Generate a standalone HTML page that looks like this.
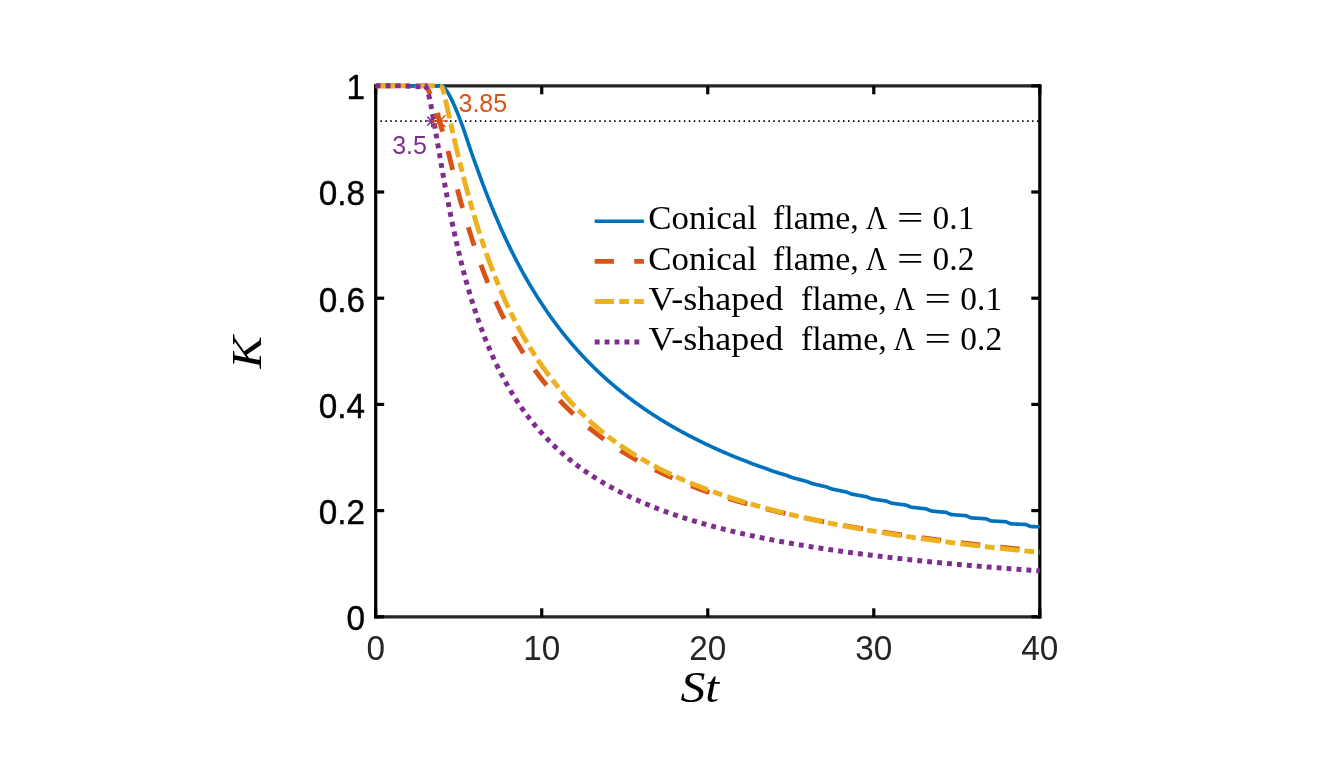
<!DOCTYPE html>
<html lang="en"><head><meta charset="utf-8"><title>K vs St</title>
<style>html,body{margin:0;padding:0;background:#fff;}svg{display:block;}</style></head>
<body>
<svg width="1331" height="757" viewBox="0 0 1331 757">
<rect width="1331" height="757" fill="#fff"/>
<g stroke="#262626" stroke-width="3.2" fill="none">
<line x1="374.09999999999997" y1="85.8" x2="1041.3999999999999" y2="85.8"/>
<line x1="374.09999999999997" y1="616.8" x2="1041.3999999999999" y2="616.8"/>
</g>
<g stroke="#000" stroke-width="3.2" fill="none">
<line x1="375.7" y1="84.2" x2="375.7" y2="618.4"/>
<line x1="1039.8" y1="84.2" x2="1039.8" y2="618.4"/>
<line x1="375.70" y1="616.8" x2="375.70" y2="608.3"/>
<line x1="375.70" y1="85.8" x2="375.70" y2="94.3"/>
<line x1="541.72" y1="616.8" x2="541.72" y2="608.3"/>
<line x1="541.72" y1="85.8" x2="541.72" y2="94.3"/>
<line x1="707.75" y1="616.8" x2="707.75" y2="608.3"/>
<line x1="707.75" y1="85.8" x2="707.75" y2="94.3"/>
<line x1="873.77" y1="616.8" x2="873.77" y2="608.3"/>
<line x1="873.77" y1="85.8" x2="873.77" y2="94.3"/>
<line x1="1039.80" y1="616.8" x2="1039.80" y2="608.3"/>
<line x1="1039.80" y1="85.8" x2="1039.80" y2="94.3"/>
<line x1="375.7" y1="616.80" x2="384.2" y2="616.80"/>
<line x1="1039.8" y1="616.80" x2="1031.3" y2="616.80"/>
<line x1="375.7" y1="510.60" x2="384.2" y2="510.60"/>
<line x1="1039.8" y1="510.60" x2="1031.3" y2="510.60"/>
<line x1="375.7" y1="404.40" x2="384.2" y2="404.40"/>
<line x1="1039.8" y1="404.40" x2="1031.3" y2="404.40"/>
<line x1="375.7" y1="298.20" x2="384.2" y2="298.20"/>
<line x1="1039.8" y1="298.20" x2="1031.3" y2="298.20"/>
<line x1="375.7" y1="192.00" x2="384.2" y2="192.00"/>
<line x1="1039.8" y1="192.00" x2="1031.3" y2="192.00"/>
<line x1="375.7" y1="85.80" x2="384.2" y2="85.80"/>
<line x1="1039.8" y1="85.80" x2="1031.3" y2="85.80"/>
</g>
<line x1="380.35" y1="121.05" x2="1039" y2="121.05" stroke="#000" stroke-width="1.8" stroke-dasharray="1.5 3.475"/>
<g fill="none" stroke-linejoin="round">
<path d="M375.70,85.80 L408.07,85.80 L440.45,85.80 L440.95,85.80 L441.45,85.80 L441.95,85.80 L442.45,86.01 L442.95,86.36 L443.45,86.79 L443.95,87.28 L444.45,87.83 L444.95,88.43 L445.45,89.08 L445.95,89.76 L446.45,90.48 L446.95,91.24 L447.45,92.02 L447.95,92.84 L448.45,93.69 L448.95,94.56 L449.45,95.46 L449.95,96.39 L450.45,97.34 L450.95,98.31 L451.45,99.31 L451.95,100.33 L452.45,101.38 L452.95,102.44 L453.45,103.52 L453.95,104.63 L454.45,105.75 L454.95,106.89 L455.45,108.05 L455.95,109.23 L456.45,110.43 L456.95,111.64 L457.45,112.87 L457.95,114.12 L458.45,115.38 L458.95,116.66 L459.45,117.96 L459.94,119.27 L460.44,120.60 L460.94,121.94 L461.44,123.30 L461.94,124.67 L462.44,126.06 L462.94,127.45 L463.44,128.86 L463.94,130.28 L464.44,131.71 L464.94,133.16 L465.44,134.62 L465.94,136.10 L466.44,137.58 L466.94,139.08 L467.44,140.58 L467.94,142.08 L468.44,143.59 L468.94,145.09 L469.44,146.59 L469.94,148.09 L470.44,149.58 L470.94,151.06 L471.44,152.52 L471.94,153.98 L472.44,155.42 L472.94,156.84 L473.44,158.25 L473.94,159.65 L474.44,161.03 L474.94,162.41 L475.44,163.79 L475.94,165.16 L476.44,166.54 L476.94,167.93 L477.44,169.33 L477.94,170.72 L478.44,172.10 L478.94,173.48 L479.44,174.86 L479.94,176.23 L480.44,177.59 L480.94,178.95 L481.44,180.30 L481.94,181.64 L482.44,182.98 L482.94,184.32 L483.44,185.64 L483.94,186.96 L484.44,188.28 L484.94,189.59 L485.44,190.89 L485.94,192.19 L486.44,193.48 L486.94,194.76 L487.44,196.04 L487.94,197.32 L488.44,198.58 L488.94,199.84 L489.44,201.10 L489.94,202.35 L490.44,203.59 L490.94,204.83 L491.44,206.06 L491.94,207.28 L492.44,208.50 L492.94,209.72 L493.44,210.92 L493.94,212.13 L494.44,213.32 L494.94,214.51 L495.44,215.70 L495.94,216.88 L496.44,218.05 L496.94,219.22 L497.44,220.38 L497.94,221.53 L498.44,222.69 L498.94,223.83 L499.44,224.97 L499.93,226.10 L500.43,227.23 L500.93,228.35 L501.43,229.47 L501.93,230.58 L502.43,231.69 L502.93,232.79 L503.43,233.88 L503.93,234.97 L504.43,236.06 L504.93,237.14 L505.43,238.21 L505.93,239.28 L506.43,240.34 L506.93,241.40 L507.43,242.45 L507.93,243.50 L508.43,244.55 L508.93,245.58 L509.43,246.62 L509.93,247.64 L510.43,248.67 L510.93,249.68 L511.43,250.70 L511.93,251.70 L512.43,252.71 L512.93,253.70 L513.43,254.70 L513.93,255.68 L514.43,256.67 L514.93,257.65 L515.43,258.62 L515.93,259.59 L516.43,260.55 L516.93,261.51 L517.43,262.47 L517.93,263.42 L518.43,264.36 L518.93,265.30 L519.43,266.24 L519.93,267.17 L520.43,268.10 L520.93,269.02 L521.43,269.94 L521.93,270.86 L522.43,271.77 L522.93,272.67 L523.43,273.57 L523.93,274.47 L524.43,275.36 L524.93,276.25 L525.43,277.13 L525.93,278.01 L526.43,278.89 L526.93,279.76 L527.43,280.63 L527.93,281.49 L528.43,282.35 L528.93,283.21 L529.43,284.06 L529.93,284.90 L530.43,285.75 L530.93,286.59 L531.43,287.42 L531.93,288.25 L532.43,289.08 L532.93,289.90 L533.43,290.72 L533.93,291.54 L534.43,292.35 L534.93,293.16 L535.43,293.96 L535.93,294.77 L536.43,295.56 L536.93,296.36 L537.43,297.15 L537.93,297.93 L538.43,298.71 L538.93,299.49 L539.43,300.27 L539.92,301.04 L540.42,301.81 L540.92,302.57 L541.42,303.34 L541.92,304.09 L542.42,304.85 L542.92,305.60 L543.42,306.35 L543.92,307.09 L544.42,307.83 L544.92,308.57 L545.42,309.30 L545.92,310.03 L546.42,310.76 L546.92,311.49 L547.42,312.21 L547.92,312.93 L548.42,313.64 L548.92,314.35 L549.42,315.06 L549.92,315.77 L550.42,316.47 L550.92,317.17 L551.42,317.86 L551.92,318.56 L552.42,319.25 L552.92,319.93 L553.42,320.62 L553.92,321.30 L554.42,321.98 L554.92,322.65 L555.42,323.32 L555.92,323.99 L556.42,324.66 L556.92,325.32 L557.42,325.98 L557.92,326.64 L558.42,327.29 L558.92,327.95 L559.42,328.59 L559.92,329.24 L560.42,329.88 L560.92,330.53 L561.42,331.16 L561.92,331.80 L562.42,332.43 L562.92,333.06 L563.42,333.69 L563.92,334.31 L564.42,334.94 L564.92,335.56 L565.42,336.17 L565.92,336.79 L566.42,337.40 L566.92,338.01 L567.42,338.61 L567.92,339.22 L568.42,339.82 L568.92,340.42 L569.42,341.01 L569.92,341.61 L570.42,342.20 L570.92,342.79 L571.42,343.38 L571.92,343.96 L572.42,344.54 L572.92,345.12 L573.42,345.70 L573.92,346.27 L574.42,346.85 L574.92,347.42 L575.42,347.98 L575.92,348.55 L576.42,349.11 L576.92,349.67 L577.42,350.23 L577.92,350.79 L578.42,351.34 L578.92,351.89 L579.42,352.44 L579.91,352.99 L580.41,353.54 L580.91,354.08 L581.41,354.62 L581.91,355.16 L582.41,355.70 L582.91,356.23 L583.41,356.76 L583.91,357.29 L584.41,357.82 L584.91,358.35 L585.41,358.87 L585.91,359.39 L586.41,359.91 L586.91,360.43 L587.41,360.95 L587.91,361.46 L588.41,361.97 L588.91,362.48 L589.41,362.99 L589.91,363.50 L590.41,364.00 L590.91,364.50 L591.41,365.00 L591.91,365.50 L592.41,366.00 L592.91,366.49 L593.41,366.99 L593.91,367.48 L594.41,367.97 L594.91,368.45 L595.41,368.94 L595.91,369.42 L596.41,369.90 L596.91,370.38 L597.41,370.86 L597.91,371.34 L598.41,371.81 L598.91,372.28 L599.41,372.75 L599.91,373.22 L600.41,373.69 L600.91,374.15 L601.41,374.62 L601.91,375.08 L602.41,375.54 L602.91,376.00 L603.41,376.46 L603.91,376.91 L604.41,377.36 L604.91,377.82 L605.41,378.27 L605.91,378.71 L606.41,379.16 L606.91,379.61 L607.41,380.05 L607.91,380.49 L608.41,380.93 L608.91,381.37 L609.41,381.81 L609.91,382.24 L610.41,382.68 L610.91,383.11 L611.41,383.54 L611.91,383.97 L612.41,384.40 L612.91,384.82 L613.41,385.25 L613.91,385.67 L614.41,386.09 L614.91,386.51 L615.41,386.93 L615.91,387.35 L616.41,387.77 L616.91,388.18 L617.41,388.59 L617.91,389.00 L618.41,389.41 L618.91,389.82 L619.41,390.23 L619.90,390.63 L620.40,391.04 L620.90,391.44 L621.40,391.84 L621.90,392.24 L622.40,392.64 L622.90,393.04 L623.40,393.43 L623.90,393.83 L624.40,394.22 L624.90,394.61 L625.40,395.00 L625.90,395.39 L626.40,395.78 L626.90,396.17 L627.40,396.55 L627.90,396.94 L628.40,397.32 L628.90,397.70 L629.40,398.08 L629.90,398.46 L630.40,398.83 L630.90,399.21 L631.40,399.58 L631.90,399.96 L632.40,400.33 L632.90,400.70 L633.40,401.07 L633.90,401.44 L634.40,401.81 L634.90,402.17 L635.40,402.54 L635.90,402.90 L636.40,403.26 L636.90,403.62 L637.40,403.98 L637.90,404.34 L638.40,404.70 L638.90,405.06 L639.40,405.41 L639.90,405.77 L640.40,406.12 L640.90,406.47 L641.40,406.82 L641.90,407.17 L642.40,407.52 L642.90,407.87 L643.40,408.21 L643.90,408.56 L644.40,408.90 L644.90,409.24 L645.40,409.58 L645.90,409.92 L646.40,410.26 L646.90,410.60 L647.40,410.94 L647.90,411.28 L648.40,411.61 L648.90,411.94 L649.40,412.28 L649.90,412.61 L650.40,412.94 L650.90,413.27 L651.40,413.60 L651.90,413.92 L652.40,414.25 L652.90,414.58 L653.40,414.90 L653.90,415.22 L654.40,415.55 L654.90,415.87 L655.40,416.19 L655.90,416.51 L656.40,416.83 L656.90,417.14 L657.40,417.46 L657.90,417.78 L658.40,418.09 L658.90,418.40 L659.40,418.72 L659.89,419.03 L660.39,419.34 L660.89,419.65 L661.39,419.96 L661.89,420.26 L662.39,420.57 L662.89,420.88 L663.39,421.18 L663.89,421.49 L664.39,421.79 L664.89,422.09 L665.39,422.39 L665.89,422.69 L666.39,422.99 L666.89,423.29 L667.39,423.59 L667.89,423.88 L668.39,424.18 L668.89,424.47 L669.39,424.77 L669.89,425.06 L670.39,425.35 L670.89,425.64 L671.39,425.93 L671.89,426.22 L672.39,426.51 L672.89,426.80 L673.39,427.09 L673.89,427.37 L674.39,427.66 L674.89,427.94 L675.39,428.23 L675.89,428.51 L676.39,428.79 L676.89,429.07 L677.39,429.35 L677.89,429.63 L678.39,429.91 L678.89,430.19 L679.39,430.46 L679.89,430.74 L680.39,431.02 L680.89,431.29 L681.39,431.56 L681.89,431.84 L682.39,432.11 L682.89,432.38 L683.39,432.65 L683.89,432.92 L684.39,433.19 L684.89,433.46 L685.39,433.73 L685.89,433.99 L686.39,434.26 L686.89,434.52 L687.39,434.79 L687.89,435.05 L688.39,435.31 L688.89,435.58 L689.39,435.84 L689.89,436.10 L690.39,436.36 L690.89,436.62 L691.39,436.88 L691.89,437.13 L692.39,437.39 L692.89,437.65 L693.39,437.90 L693.89,438.16 L694.39,438.41 L694.89,438.66 L695.39,438.92 L695.89,439.17 L696.39,439.42 L696.89,439.67 L697.39,439.92 L697.89,440.17 L698.39,440.42 L698.89,440.66 L699.39,440.91 L699.88,441.16 L700.38,441.40 L700.88,441.65 L701.38,441.89 L701.88,442.14 L702.38,442.38 L702.88,442.62 L703.38,442.86 L703.88,443.10 L704.38,443.34 L704.88,443.58 L705.38,443.82 L705.88,444.06 L706.38,444.30 L706.88,444.54 L707.38,444.77 L707.88,445.01 L708.38,445.24 L708.88,445.48 L709.38,445.71 L709.88,445.95 L710.38,446.18 L710.88,446.41 L711.38,446.65 L711.88,446.88 L712.38,447.11 L712.88,447.34 L713.38,447.57 L713.88,447.80 L714.38,448.03 L714.88,448.25 L715.38,448.48 L715.88,448.71 L716.38,448.93 L716.88,449.15 L717.38,449.38 L717.88,449.60 L718.38,449.82 L718.88,450.04 L719.38,450.26 L719.88,450.48 L720.38,450.70 L720.88,450.91 L721.38,451.13 L721.88,451.35 L722.38,451.56 L722.88,451.78 L723.38,451.99 L723.88,452.20 L724.38,452.41 L724.88,452.62 L725.38,452.84 L725.88,453.05 L726.38,453.25 L726.88,453.46 L727.38,453.69 L727.88,453.91 L728.38,454.13 L728.88,454.35 L729.38,454.57 L729.88,454.80 L730.38,455.02 L730.88,455.24 L731.38,455.46 L731.88,455.68 L732.38,455.89 L732.88,456.09 L733.38,456.29 L733.88,456.50 L734.38,456.70 L734.88,456.90 L735.38,457.10 L735.88,457.30 L736.38,457.49 L736.88,457.69 L737.38,457.89 L737.88,458.09 L738.38,458.28 L738.88,458.48 L739.38,458.67 L739.87,458.86 L740.37,459.06 L740.87,459.25 L741.37,459.44 L741.87,459.63 L742.37,459.82 L742.87,460.01 L743.37,460.20 L743.87,460.39 L744.37,460.58 L744.87,460.76 L745.37,460.95 L745.87,461.13 L746.37,461.32 L746.87,461.51 L747.37,461.72 L747.87,461.93 L748.37,462.15 L748.87,462.36 L749.37,462.57 L749.87,462.79 L750.37,463.00 L750.87,463.21 L751.37,463.43 L751.87,463.63 L752.37,463.81 L752.87,463.99 L753.37,464.17 L753.87,464.35 L754.37,464.53 L754.87,464.71 L755.37,464.89 L755.87,465.06 L756.37,465.24 L756.87,465.41 L757.37,465.59 L757.87,465.76 L758.37,465.93 L758.87,466.11 L759.37,466.28 L759.87,466.45 L760.37,466.62 L760.87,466.79 L761.37,466.96 L761.87,467.13 L762.37,467.30 L762.87,467.46 L763.37,467.63 L763.87,467.80 L764.37,467.96 L764.87,468.13 L765.37,468.29 L765.87,468.46 L766.37,468.62 L766.87,468.80 L767.37,469.00 L767.87,469.21 L768.37,469.42 L768.87,469.62 L769.37,469.83 L769.87,470.04 L770.37,470.25 L770.87,470.45 L771.37,470.66 L771.87,470.85 L772.37,471.01 L772.87,471.17 L773.37,471.33 L773.87,471.49 L774.37,471.64 L774.87,471.80 L775.37,471.96 L775.87,472.11 L776.37,472.27 L776.87,472.42 L777.37,472.58 L777.87,472.73 L778.37,472.88 L778.87,473.04 L779.37,473.19 L779.86,473.34 L780.36,473.49 L780.86,473.64 L781.36,473.79 L781.86,473.94 L782.36,474.09 L782.86,474.24 L783.36,474.38 L783.86,474.53 L784.36,474.68 L784.86,474.82 L785.36,474.97 L785.86,475.11 L786.36,475.26 L786.86,475.43 L787.36,475.63 L787.86,475.84 L788.36,476.04 L788.86,476.24 L789.36,476.44 L789.86,476.65 L790.36,476.85 L790.86,477.05 L791.36,477.26 L791.86,477.43 L792.36,477.57 L792.86,477.71 L793.36,477.85 L793.86,477.99 L794.36,478.13 L794.86,478.27 L795.36,478.41 L795.86,478.55 L796.36,478.68 L796.86,478.82 L797.36,478.96 L797.86,479.09 L798.36,479.23 L798.86,479.36 L799.36,479.50 L799.86,479.63 L800.36,479.76 L800.86,479.89 L801.36,480.03 L801.86,480.16 L802.36,480.29 L802.86,480.42 L803.36,480.55 L803.86,480.68 L804.36,480.81 L804.86,480.94 L805.36,481.06 L805.86,481.19 L806.36,481.32 L806.86,481.49 L807.36,481.69 L807.86,481.89 L808.36,482.09 L808.86,482.29 L809.36,482.50 L809.86,482.70 L810.36,482.90 L810.86,483.10 L811.36,483.30 L811.86,483.45 L812.36,483.58 L812.86,483.70 L813.36,483.82 L813.86,483.95 L814.36,484.07 L814.86,484.19 L815.36,484.31 L815.86,484.44 L816.36,484.56 L816.86,484.68 L817.36,484.80 L817.86,484.92 L818.36,485.04 L818.86,485.15 L819.36,485.27 L819.85,485.39 L820.35,485.51 L820.85,485.62 L821.35,485.74 L821.85,485.85 L822.35,485.97 L822.85,486.08 L823.35,486.20 L823.85,486.31 L824.35,486.43 L824.85,486.54 L825.35,486.65 L825.85,486.76 L826.35,486.87 L826.85,487.05 L827.35,487.25 L827.85,487.45 L828.35,487.65 L828.85,487.85 L829.35,488.05 L829.85,488.26 L830.35,488.46 L830.85,488.66 L831.35,488.86 L831.85,488.99 L832.35,489.10 L832.85,489.20 L833.35,489.31 L833.85,489.42 L834.35,489.53 L834.85,489.64 L835.35,489.74 L835.85,489.85 L836.35,489.96 L836.85,490.06 L837.35,490.17 L837.85,490.27 L838.35,490.38 L838.85,490.48 L839.35,490.58 L839.85,490.69 L840.35,490.79 L840.85,490.89 L841.35,490.99 L841.85,491.09 L842.35,491.19 L842.85,491.29 L843.35,491.39 L843.85,491.49 L844.35,491.59 L844.85,491.69 L845.35,491.79 L845.85,491.89 L846.35,491.98 L846.85,492.18 L847.35,492.38 L847.85,492.58 L848.35,492.78 L848.85,492.98 L849.35,493.18 L849.85,493.38 L850.35,493.58 L850.85,493.79 L851.35,493.99 L851.85,494.09 L852.35,494.18 L852.85,494.28 L853.35,494.37 L853.85,494.47 L854.35,494.56 L854.85,494.66 L855.35,494.75 L855.85,494.84 L856.35,494.93 L856.85,495.03 L857.35,495.12 L857.85,495.21 L858.35,495.30 L858.85,495.39 L859.35,495.48 L859.84,495.57 L860.34,495.66 L860.84,495.75 L861.34,495.84 L861.84,495.92 L862.34,496.01 L862.84,496.10 L863.34,496.18 L863.84,496.27 L864.34,496.36 L864.84,496.44 L865.34,496.53 L865.84,496.61 L866.34,496.70 L866.84,496.91 L867.34,497.11 L867.84,497.31 L868.34,497.51 L868.84,497.72 L869.34,497.92 L869.84,498.12 L870.34,498.33 L870.84,498.53 L871.34,498.72 L871.84,498.81 L872.34,498.89 L872.84,498.97 L873.34,499.06 L873.84,499.14 L874.34,499.22 L874.84,499.30 L875.34,499.38 L875.84,499.46 L876.34,499.54 L876.84,499.62 L877.34,499.70 L877.84,499.78 L878.34,499.86 L878.84,499.93 L879.34,500.01 L879.84,500.09 L880.34,500.17 L880.84,500.24 L881.34,500.32 L881.84,500.39 L882.34,500.47 L882.84,500.54 L883.34,500.62 L883.84,500.69 L884.34,500.77 L884.84,500.84 L885.34,500.91 L885.84,500.98 L886.34,501.09 L886.84,501.29 L887.34,501.50 L887.84,501.70 L888.34,501.91 L888.84,502.11 L889.34,502.32 L889.84,502.53 L890.34,502.73 L890.84,502.94 L891.34,503.11 L891.84,503.19 L892.34,503.26 L892.84,503.33 L893.34,503.40 L893.84,503.47 L894.34,503.54 L894.84,503.61 L895.34,503.68 L895.84,503.74 L896.34,503.81 L896.84,503.88 L897.34,503.95 L897.84,504.02 L898.34,504.08 L898.84,504.15 L899.34,504.22 L899.83,504.28 L900.33,504.35 L900.83,504.41 L901.33,504.48 L901.83,504.54 L902.33,504.60 L902.83,504.67 L903.33,504.73 L903.83,504.79 L904.33,504.86 L904.83,504.92 L905.33,504.98 L905.83,505.04 L906.33,505.16 L906.83,505.36 L907.33,505.57 L907.83,505.78 L908.33,505.99 L908.83,506.20 L909.33,506.41 L909.83,506.62 L910.33,506.83 L910.83,507.05 L911.33,507.20 L911.83,507.26 L912.33,507.32 L912.83,507.38 L913.33,507.44 L913.83,507.50 L914.33,507.56 L914.83,507.61 L915.33,507.67 L915.83,507.73 L916.33,507.79 L916.83,507.84 L917.33,507.90 L917.83,507.96 L918.33,508.01 L918.83,508.07 L919.33,508.13 L919.83,508.18 L920.33,508.23 L920.83,508.29 L921.33,508.34 L921.83,508.40 L922.33,508.45 L922.83,508.50 L923.33,508.56 L923.83,508.61 L924.33,508.66 L924.83,508.71 L925.33,508.76 L925.83,508.81 L926.33,508.95 L926.83,509.16 L927.33,509.37 L927.83,509.59 L928.33,509.80 L928.83,510.02 L929.33,510.23 L929.83,510.45 L930.33,510.66 L930.83,510.88 L931.33,511.00 L931.83,511.05 L932.33,511.10 L932.83,511.15 L933.33,511.20 L933.83,511.25 L934.33,511.30 L934.83,511.35 L935.33,511.40 L935.83,511.45 L936.33,511.49 L936.83,511.54 L937.33,511.59 L937.83,511.63 L938.33,511.68 L938.83,511.73 L939.33,511.77 L939.82,511.82 L940.32,511.86 L940.82,511.91 L941.32,511.95 L941.82,511.99 L942.32,512.04 L942.82,512.08 L943.32,512.12 L943.82,512.16 L944.32,512.21 L944.82,512.25 L945.32,512.29 L945.82,512.33 L946.32,512.49 L946.82,512.71 L947.32,512.92 L947.82,513.14 L948.32,513.36 L948.82,513.58 L949.32,513.80 L949.82,514.02 L950.32,514.24 L950.82,514.47 L951.32,514.56 L951.82,514.60 L952.32,514.64 L952.82,514.68 L953.32,514.72 L953.82,514.76 L954.32,514.80 L954.82,514.84 L955.32,514.88 L955.82,514.92 L956.32,514.96 L956.82,514.99 L957.32,515.03 L957.82,515.07 L958.32,515.11 L958.82,515.14 L959.32,515.18 L959.82,515.22 L960.32,515.25 L960.82,515.29 L961.32,515.32 L961.82,515.36 L962.32,515.40 L962.82,515.43 L963.32,515.47 L963.82,515.50 L964.32,515.54 L964.82,515.57 L965.32,515.61 L965.82,515.64 L966.32,515.82 L966.82,516.04 L967.32,516.26 L967.82,516.48 L968.32,516.70 L968.82,516.92 L969.32,517.14 L969.82,517.36 L970.32,517.58 L970.82,517.79 L971.32,517.86 L971.82,517.89 L972.32,517.92 L972.82,517.96 L973.32,517.99 L973.82,518.02 L974.32,518.06 L974.82,518.09 L975.32,518.12 L975.82,518.15 L976.32,518.19 L976.82,518.22 L977.32,518.25 L977.82,518.28 L978.32,518.31 L978.82,518.34 L979.32,518.38 L979.81,518.41 L980.31,518.44 L980.81,518.47 L981.31,518.50 L981.81,518.53 L982.31,518.56 L982.81,518.59 L983.31,518.62 L983.81,518.65 L984.31,518.68 L984.81,518.71 L985.31,518.74 L985.81,518.77 L986.31,518.98 L986.81,519.19 L987.31,519.41 L987.81,519.62 L988.31,519.84 L988.81,520.05 L989.31,520.26 L989.81,520.48 L990.31,520.69 L990.81,520.90 L991.31,520.94 L991.81,520.96 L992.31,520.99 L992.81,521.02 L993.31,521.05 L993.81,521.08 L994.31,521.11 L994.81,521.13 L995.31,521.16 L995.81,521.19 L996.31,521.22 L996.81,521.24 L997.31,521.27 L997.81,521.30 L998.31,521.32 L998.81,521.35 L999.31,521.38 L999.81,521.41 L1000.31,521.43 L1000.81,521.46 L1001.31,521.48 L1001.81,521.51 L1002.31,521.54 L1002.81,521.56 L1003.31,521.59 L1003.81,521.61 L1004.31,521.64 L1004.81,521.67 L1005.31,521.69 L1005.81,521.73 L1006.31,521.94 L1006.81,522.15 L1007.31,522.36 L1007.81,522.57 L1008.31,522.78 L1008.81,522.99 L1009.31,523.20 L1009.81,523.41 L1010.31,523.62 L1010.81,523.81 L1011.31,523.83 L1011.81,523.85 L1012.31,523.88 L1012.81,523.90 L1013.31,523.93 L1013.81,523.95 L1014.31,523.97 L1014.81,524.00 L1015.31,524.02 L1015.81,524.04 L1016.31,524.07 L1016.81,524.09 L1017.31,524.11 L1017.81,524.13 L1018.31,524.16 L1018.81,524.18 L1019.31,524.20 L1019.80,524.22 L1020.30,524.25 L1020.80,524.27 L1021.30,524.29 L1021.80,524.31 L1022.30,524.34 L1022.80,524.36 L1023.30,524.38 L1023.80,524.40 L1024.30,524.42 L1024.80,524.44 L1025.30,524.47 L1025.80,524.53 L1026.30,524.73 L1026.80,524.94 L1027.30,525.15 L1027.80,525.35 L1028.30,525.56 L1028.80,525.76 L1029.30,525.97 L1029.80,526.17 L1030.30,526.38 L1030.80,526.53 L1031.30,526.55 L1031.80,526.57 L1032.30,526.59 L1032.80,526.61 L1033.30,526.63 L1033.80,526.65 L1034.30,526.67 L1034.80,526.69 L1035.30,526.71 L1035.80,526.73 L1036.30,526.75 L1036.80,526.77 L1037.30,526.79 L1037.80,526.81 L1038.30,526.83 L1038.80,526.84 L1039.30,526.86 L1039.80,526.88" stroke="#0072BD" stroke-width="3.65"/>
<path d="M375.70,85.80 L399.77,85.80 L423.85,85.80 L424.36,85.80 L424.87,85.80 L425.39,85.80 L425.90,86.14 L426.42,86.81 L426.93,87.61 L427.44,88.50 L427.96,89.46 L428.47,90.49 L428.98,91.57 L429.50,92.71 L430.01,93.88 L430.53,95.10 L431.04,96.36 L431.55,97.65 L432.07,98.98 L432.58,100.34 L433.09,101.72 L433.61,103.14 L434.12,104.58 L434.64,106.05 L435.15,107.54 L435.66,109.06 L436.18,110.60 L436.69,112.17 L437.20,113.75 L437.72,115.36 L438.23,116.99 L438.75,118.63 L439.26,120.30 L439.77,121.98 L440.29,123.69 L440.80,125.41 L441.31,127.15 L441.83,128.90 L442.34,130.67 L442.85,132.46 L443.37,134.27 L443.88,136.09 L444.40,137.92 L444.91,139.77 L445.42,141.64 L445.94,143.52 L446.45,145.41 L446.96,147.32 L447.48,149.24 L447.99,151.19 L448.51,153.16 L449.02,155.16 L449.53,157.19 L450.05,159.24 L450.56,161.30 L451.07,163.39 L451.59,165.49 L452.10,167.61 L452.62,169.73 L453.13,171.86 L453.64,173.99 L454.16,176.12 L454.67,178.24 L455.18,180.35 L455.70,182.45 L456.21,184.53 L456.73,186.59 L457.24,188.62 L457.75,190.63 L458.27,192.61 L458.78,194.56 L459.29,196.48 L459.81,198.37 L460.32,200.23 L460.84,202.07 L461.35,203.88 L461.86,205.66 L462.38,207.43 L462.89,209.19 L463.40,210.95 L463.92,212.71 L464.43,214.47 L464.95,216.21 L465.46,217.94 L465.97,219.66 L466.49,221.37 L467.00,223.06 L467.51,224.75 L468.03,226.42 L468.54,228.08 L469.05,229.73 L469.57,231.37 L470.08,233.00 L470.60,234.62 L471.11,236.22 L471.62,237.82 L472.14,239.40 L472.65,240.97 L473.16,242.53 L473.68,244.08 L474.19,245.62 L474.71,247.15 L475.22,248.67 L475.73,250.18 L476.25,251.67 L476.76,253.16 L477.27,254.64 L477.79,256.10 L478.30,257.55 L478.82,259.00 L479.33,260.43 L479.84,261.86 L480.36,263.27 L480.87,264.67 L481.38,266.07 L481.90,267.45 L482.41,268.83 L482.93,270.19 L483.44,271.55 L483.95,272.89 L484.47,274.23 L484.98,275.56 L485.49,276.87 L486.01,278.18 L486.52,279.48 L487.04,280.77 L487.55,282.05 L488.06,283.32 L488.58,284.59 L489.09,285.84 L489.60,287.09 L490.12,288.32 L490.63,289.55 L491.14,290.77 L491.66,291.98 L492.17,293.19 L492.69,294.38 L493.20,295.57 L493.71,296.75 L494.23,297.92 L494.74,299.08 L495.25,300.23 L495.77,301.38 L496.28,302.52 L496.80,303.65 L497.31,304.77 L497.82,305.89 L498.34,307.00 L498.85,308.10 L499.36,309.19 L499.88,310.28 L500.39,311.36 L500.91,312.43 L501.42,313.50 L501.93,314.55 L502.45,315.60 L502.96,316.65 L503.47,317.68 L503.99,318.72 L504.50,319.74 L505.02,320.76 L505.53,321.77 L506.04,322.77 L506.56,323.77 L507.07,324.76 L507.58,325.74 L508.10,326.72 L508.61,327.69 L509.13,328.66 L509.64,329.61 L510.15,330.57 L510.67,331.51 L511.18,332.46 L511.69,333.39 L512.21,334.32 L512.72,335.24 L513.23,336.16 L513.75,337.07 L514.26,337.98 L514.78,338.88 L515.29,339.77 L515.80,340.66 L516.32,341.55 L516.83,342.42 L517.34,343.30 L517.86,344.16 L518.37,345.03 L518.89,345.88 L519.40,346.73 L519.91,347.58 L520.43,348.42 L520.94,349.26 L521.45,350.09 L521.97,350.92 L522.48,351.74 L523.00,352.55 L523.51,353.36 L524.02,354.17 L524.54,354.97 L525.05,355.77 L525.56,356.56 L526.08,357.35 L526.59,358.13 L527.11,358.91 L527.62,359.68 L528.13,360.45 L528.65,361.22 L529.16,361.98 L529.67,362.73 L530.19,363.48 L530.70,364.23 L531.22,364.97 L531.73,365.71 L532.24,366.45 L532.76,367.18 L533.27,367.90 L533.78,368.63 L534.30,369.34 L534.81,370.06 L535.32,370.77 L535.84,371.47 L536.35,372.17 L536.87,372.87 L537.38,373.57 L537.89,374.26 L538.41,374.94 L538.92,375.62 L539.43,376.30 L539.95,376.98 L540.46,377.65 L540.98,378.32 L541.49,378.98 L542.00,379.64 L542.52,380.30 L543.03,380.95 L543.54,381.60 L544.06,382.25 L544.57,382.89 L545.09,383.53 L545.60,384.16 L546.11,384.79 L546.63,385.42 L547.14,386.05 L547.65,386.67 L548.17,387.29 L548.68,387.91 L549.20,388.52 L549.71,389.13 L550.22,389.73 L550.74,390.34 L551.25,390.94 L551.76,391.53 L552.28,392.13 L552.79,392.72 L553.31,393.30 L553.82,393.89 L554.33,394.47 L554.85,395.05 L555.36,395.62 L555.87,396.19 L556.39,396.76 L556.90,397.33 L557.41,397.89 L557.93,398.45 L558.44,399.01 L558.96,399.57 L559.47,400.12 L559.98,400.67 L560.50,401.22 L561.01,401.76 L561.52,402.30 L562.04,402.84 L562.55,403.38 L563.07,403.91 L563.58,404.44 L564.09,404.97 L564.61,405.49 L565.12,406.02 L565.63,406.54 L566.15,407.05 L566.66,407.57 L567.18,408.08 L567.69,408.59 L568.20,409.10 L568.72,409.61 L569.23,410.11 L569.74,410.61 L570.26,411.11 L570.77,411.60 L571.29,412.10 L571.80,412.59 L572.31,413.08 L572.83,413.56 L573.34,414.05 L573.85,414.53 L574.37,415.01 L574.88,415.49 L575.40,415.96 L575.91,416.43 L576.42,416.90 L576.94,417.37 L577.45,417.84 L577.96,418.30 L578.48,418.76 L578.99,419.22 L579.51,419.68 L580.02,420.14 L580.53,420.59 L581.05,421.04 L581.56,421.49 L582.07,421.94 L582.59,422.38 L583.10,422.83 L583.61,423.27 L584.13,423.71 L584.64,424.15 L585.16,424.58 L585.67,425.02 L586.18,425.45 L586.70,425.88 L587.21,426.30 L587.72,426.73 L588.24,427.15 L588.75,427.58 L589.27,428.00 L589.78,428.41 L590.29,428.83 L590.81,429.24 L591.32,429.66 L591.83,430.07 L592.35,430.48 L592.86,430.89 L593.38,431.29 L593.89,431.69 L594.40,432.10 L594.92,432.50 L595.43,432.90 L595.94,433.29 L596.46,433.69 L596.97,434.08 L597.49,434.47 L598.00,434.86 L598.51,435.25 L599.03,435.64 L599.54,436.02 L600.05,436.41 L600.57,436.79 L601.08,437.17 L601.60,437.55 L602.11,437.93 L602.62,438.30 L603.14,438.68 L603.65,439.05 L604.16,439.42 L604.68,439.79 L605.19,440.16 L605.70,440.52 L606.22,440.89 L606.73,441.25 L607.25,441.61 L607.76,441.98 L608.27,442.33 L608.79,442.69 L609.30,443.05 L609.81,443.40 L610.33,443.76 L610.84,444.11 L611.36,444.46 L611.87,444.81 L612.38,445.15 L612.90,445.50 L613.41,445.84 L613.92,446.19 L614.44,446.53 L614.95,446.87 L615.47,447.21 L615.98,447.55 L616.49,447.88 L617.01,448.22 L617.52,448.55 L618.03,448.89 L618.55,449.22 L619.06,449.55 L619.58,449.88 L620.09,450.20 L620.60,450.53 L621.12,450.85 L621.63,451.18 L622.14,451.50 L622.66,451.82 L623.17,452.14 L623.69,452.46 L624.20,452.78 L624.71,453.09 L625.23,453.41 L625.74,453.72 L626.25,454.03 L626.77,454.35 L627.28,454.66 L627.79,454.96 L628.31,455.27 L628.82,455.58 L629.34,455.88 L629.85,456.19 L630.36,456.49 L630.88,456.79 L631.39,457.10 L631.90,457.40 L632.42,457.69 L632.93,457.99 L633.45,458.29 L633.96,458.58 L634.47,458.88 L634.99,459.17 L635.50,459.46 L636.01,459.75 L636.53,460.04 L637.04,460.33 L637.56,460.62 L638.07,460.91 L638.58,461.19 L639.10,461.48 L639.61,461.76 L640.12,462.04 L640.64,462.33 L641.15,462.61 L641.67,462.89 L642.18,463.16 L642.69,463.44 L643.21,463.72 L643.72,463.99 L644.23,464.27 L644.75,464.54 L645.26,464.81 L645.78,465.09 L646.29,465.36 L646.80,465.63 L647.32,465.89 L647.83,466.16 L648.34,466.43 L648.86,466.70 L649.37,466.96 L649.88,467.22 L650.40,467.49 L650.91,467.75 L651.43,468.01 L651.94,468.27 L652.45,468.53 L652.97,468.79 L653.48,469.05 L653.99,469.30 L654.51,469.56 L655.02,469.81 L655.54,470.07 L656.05,470.32 L656.56,470.57 L657.08,470.83 L657.59,471.08 L658.10,471.33 L658.62,471.57 L659.13,471.82 L659.65,472.07 L660.16,472.32 L660.67,472.56 L661.19,472.81 L661.70,473.05 L662.21,473.29 L662.73,473.54 L663.24,473.78 L663.76,474.02 L664.27,474.26 L664.78,474.50 L665.30,474.73 L665.81,474.97 L666.32,475.21 L666.84,475.44 L667.35,475.68 L667.87,475.91 L668.38,476.15 L668.89,476.38 L669.41,476.61 L669.92,476.84 L670.43,477.07 L670.95,477.30 L671.46,477.53 L671.98,477.76 L672.49,477.99 L673.00,478.21 L673.52,478.44 L674.03,478.67 L674.54,478.89 L675.06,479.11 L675.57,479.34 L676.08,479.56 L676.60,479.78 L677.11,480.00 L677.63,480.23 L678.14,480.45 L678.65,480.67 L679.17,480.89 L679.68,481.11 L680.19,481.32 L680.71,481.54 L681.22,481.76 L681.74,481.98 L682.25,482.19 L682.76,482.41 L683.28,482.62 L683.79,482.83 L684.30,483.05 L684.82,483.26 L685.33,483.47 L685.85,483.68 L686.36,483.89 L686.87,484.10 L687.39,484.31 L687.90,484.52 L688.41,484.73 L688.93,484.93 L689.44,485.14 L689.96,485.34 L690.47,485.55 L690.98,485.75 L691.50,485.96 L692.01,486.16 L692.52,486.36 L693.04,486.56 L693.55,486.76 L694.07,486.96 L694.58,487.15 L695.09,487.35 L695.61,487.55 L696.12,487.74 L696.63,487.94 L697.15,488.13 L697.66,488.33 L698.17,488.52 L698.69,488.71 L699.20,488.90 L699.72,489.09 L700.23,489.28 L700.74,489.47 L701.26,489.65 L701.77,489.84 L702.28,490.03 L702.80,490.21 L703.31,490.40 L703.83,490.58 L704.34,490.76 L704.85,490.94 L705.37,491.12 L705.88,491.30 L706.39,491.48 L706.91,491.66 L707.42,491.84 L707.94,492.02 L708.45,492.19 L708.96,492.37 L709.48,492.55 L709.99,492.72 L710.50,492.89 L711.02,493.07 L711.53,493.24 L712.05,493.41 L712.56,493.58 L713.07,493.75 L713.59,493.92 L714.10,494.09 L714.61,494.26 L715.13,494.42 L715.64,494.59 L716.16,494.76 L716.67,494.92 L717.18,495.09 L717.70,495.25 L718.21,495.41 L718.72,495.58 L719.24,495.74 L719.75,495.90 L720.26,496.06 L720.78,496.22 L721.29,496.38 L721.81,496.54 L722.32,496.70 L722.83,496.86 L723.35,497.02 L723.86,497.17 L724.37,497.33 L724.89,497.48 L725.40,497.64 L725.92,497.80 L726.43,497.95 L726.94,498.10 L727.46,498.26 L727.97,498.41 L728.48,498.56 L729.00,498.72 L729.51,498.87 L730.03,499.02 L730.54,499.17 L731.05,499.32 L731.57,499.47 L732.08,499.62 L732.59,499.77 L733.11,499.92 L733.62,500.07 L734.14,500.22 L734.65,500.37 L735.16,500.52 L735.68,500.67 L736.19,500.81 L736.70,500.96 L737.22,501.11 L737.73,501.26 L738.25,501.40 L738.76,501.55 L739.27,501.70 L739.79,501.84 L740.30,501.99 L740.81,502.13 L741.33,502.28 L741.84,502.43 L742.35,502.57 L742.87,502.72 L743.38,502.86 L743.90,503.00 L744.41,503.15 L744.92,503.29 L745.44,503.43 L745.95,503.58 L746.46,503.72 L746.98,503.86 L747.49,504.00 L748.01,504.14 L748.52,504.28 L749.03,504.42 L749.55,504.56 L750.06,504.70 L750.57,504.84 L751.09,504.98 L751.60,505.12 L752.12,505.26 L752.63,505.40 L753.14,505.54 L753.66,505.67 L754.17,505.81 L754.68,505.95 L755.20,506.08 L755.71,506.22 L756.23,506.35 L756.74,506.49 L757.25,506.63 L757.77,506.76 L758.28,506.89 L758.79,507.03 L759.31,507.16 L759.82,507.30 L760.34,507.43 L760.85,507.56 L761.36,507.69 L761.88,507.83 L762.39,507.96 L762.90,508.09 L763.42,508.22 L763.93,508.35 L764.44,508.48 L764.96,508.61 L765.47,508.74 L765.99,508.87 L766.50,509.00 L767.01,509.13 L767.53,509.26 L768.04,509.39 L768.55,509.52 L769.07,509.64 L769.58,509.77 L770.10,509.90 L770.61,510.03 L771.12,510.15 L771.64,510.28 L772.15,510.40 L772.66,510.53 L773.18,510.66 L773.69,510.78 L774.21,510.91 L774.72,511.03 L775.23,511.15 L775.75,511.28 L776.26,511.40 L776.77,511.53 L777.29,511.65 L777.80,511.77 L778.32,511.89 L778.83,512.02 L779.34,512.14 L779.86,512.26 L780.37,512.38 L780.88,512.50 L781.40,512.62 L781.91,512.74 L782.43,512.87 L782.94,512.99 L783.45,513.10 L783.97,513.22 L784.48,513.34 L784.99,513.46 L785.51,513.58 L786.02,513.70 L786.54,513.82 L787.05,513.94 L787.56,514.05 L788.08,514.17 L788.59,514.29 L789.10,514.40 L789.62,514.52 L790.13,514.64 L790.64,514.75 L791.16,514.87 L791.67,514.98 L792.19,515.10 L792.70,515.21 L793.21,515.33 L793.73,515.44 L794.24,515.56 L794.75,515.67 L795.27,515.79 L795.78,515.90 L796.30,516.01 L796.81,516.13 L797.32,516.24 L797.84,516.35 L798.35,516.46 L798.86,516.58 L799.38,516.69 L799.89,516.80 L800.41,516.91 L800.92,517.02 L801.43,517.13 L801.95,517.24 L802.46,517.35 L802.97,517.46 L803.49,517.57 L804.00,517.68 L804.52,517.79 L805.03,517.90 L805.54,518.01 L806.06,518.12 L806.57,518.23 L807.08,518.33 L807.60,518.44 L808.11,518.55 L808.63,518.66 L809.14,518.76 L809.65,518.87 L810.17,518.98 L810.68,519.08 L811.19,519.19 L811.71,519.30 L812.22,519.40 L812.73,519.51 L813.25,519.61 L813.76,519.72 L814.28,519.82 L814.79,519.93 L815.30,520.03 L815.82,520.14 L816.33,520.24 L816.84,520.34 L817.36,520.45 L817.87,520.55 L818.39,520.65 L818.90,520.76 L819.41,520.86 L819.93,520.96 L820.44,521.06 L820.95,521.17 L821.47,521.27 L821.98,521.37 L822.50,521.47 L823.01,521.57 L823.52,521.67 L824.04,521.77 L824.55,521.87 L825.06,521.97 L825.58,522.07 L826.09,522.17 L826.61,522.27 L827.12,522.37 L827.63,522.47 L828.15,522.57 L828.66,522.67 L829.17,522.77 L829.69,522.87 L830.20,522.96 L830.72,523.06 L831.23,523.16 L831.74,523.26 L832.26,523.36 L832.77,523.45 L833.28,523.55 L833.80,523.65 L834.31,523.74 L834.82,523.84 L835.34,523.94 L835.85,524.03 L836.37,524.13 L836.88,524.22 L837.39,524.32 L837.91,524.41 L838.42,524.51 L838.93,524.60 L839.45,524.70 L839.96,524.79 L840.48,524.89 L840.99,524.98 L841.50,525.08 L842.02,525.17 L842.53,525.26 L843.04,525.36 L843.56,525.45 L844.07,525.54 L844.59,525.63 L845.10,525.73 L845.61,525.82 L846.13,525.91 L846.64,526.00 L847.15,526.10 L847.67,526.19 L848.18,526.28 L848.70,526.37 L849.21,526.46 L849.72,526.55 L850.24,526.64 L850.75,526.73 L851.26,526.82 L851.78,526.91 L852.29,527.00 L852.81,527.09 L853.32,527.18 L853.83,527.27 L854.35,527.36 L854.86,527.45 L855.37,527.54 L855.89,527.63 L856.40,527.72 L856.91,527.81 L857.43,527.89 L857.94,527.98 L858.46,528.07 L858.97,528.16 L859.48,528.24 L860.00,528.33 L860.51,528.42 L861.02,528.51 L861.54,528.59 L862.05,528.68 L862.57,528.77 L863.08,528.85 L863.59,528.94 L864.11,529.02 L864.62,529.11 L865.13,529.20 L865.65,529.28 L866.16,529.37 L866.68,529.45 L867.19,529.54 L867.70,529.62 L868.22,529.71 L868.73,529.79 L869.24,529.88 L869.76,529.96 L870.27,530.04 L870.79,530.13 L871.30,530.21 L871.81,530.30 L872.33,530.38 L872.84,530.46 L873.35,530.54 L873.87,530.63 L874.38,530.71 L874.90,530.79 L875.41,530.88 L875.92,530.96 L876.44,531.04 L876.95,531.12 L877.46,531.20 L877.98,531.29 L878.49,531.37 L879.00,531.45 L879.52,531.53 L880.03,531.61 L880.55,531.69 L881.06,531.77 L881.57,531.85 L882.09,531.93 L882.60,532.01 L883.11,532.09 L883.63,532.17 L884.14,532.25 L884.66,532.33 L885.17,532.41 L885.68,532.49 L886.20,532.57 L886.71,532.65 L887.22,532.73 L887.74,532.81 L888.25,532.89 L888.77,532.97 L889.28,533.04 L889.79,533.12 L890.31,533.20 L890.82,533.28 L891.33,533.36 L891.85,533.43 L892.36,533.51 L892.88,533.59 L893.39,533.66 L893.90,533.74 L894.42,533.82 L894.93,533.90 L895.44,533.97 L895.96,534.05 L896.47,534.13 L896.99,534.20 L897.50,534.28 L898.01,534.35 L898.53,534.43 L899.04,534.50 L899.55,534.58 L900.07,534.66 L900.58,534.73 L901.10,534.81 L901.61,534.88 L902.12,534.96 L902.64,535.03 L903.15,535.10 L903.66,535.18 L904.18,535.25 L904.69,535.33 L905.20,535.40 L905.72,535.48 L906.23,535.55 L906.75,535.62 L907.26,535.70 L907.77,535.77 L908.29,535.84 L908.80,535.92 L909.31,535.99 L909.83,536.06 L910.34,536.13 L910.86,536.21 L911.37,536.28 L911.88,536.35 L912.40,536.42 L912.91,536.50 L913.42,536.57 L913.94,536.64 L914.45,536.71 L914.97,536.78 L915.48,536.85 L915.99,536.93 L916.51,537.00 L917.02,537.07 L917.53,537.14 L918.05,537.21 L918.56,537.28 L919.08,537.35 L919.59,537.42 L920.10,537.49 L920.62,537.56 L921.13,537.63 L921.64,537.70 L922.16,537.77 L922.67,537.84 L923.19,537.91 L923.70,537.98 L924.21,538.05 L924.73,538.12 L925.24,538.19 L925.75,538.26 L926.27,538.33 L926.78,538.39 L927.29,538.46 L927.81,538.53 L928.32,538.60 L928.84,538.67 L929.35,538.74 L929.86,538.80 L930.38,538.87 L930.89,538.94 L931.40,539.01 L931.92,539.07 L932.43,539.14 L932.95,539.21 L933.46,539.28 L933.97,539.34 L934.49,539.41 L935.00,539.48 L935.51,539.54 L936.03,539.61 L936.54,539.68 L937.06,539.74 L937.57,539.81 L938.08,539.88 L938.60,539.94 L939.11,540.01 L939.62,540.07 L940.14,540.14 L940.65,540.20 L941.17,540.27 L941.68,540.34 L942.19,540.40 L942.71,540.47 L943.22,540.53 L943.73,540.60 L944.25,540.66 L944.76,540.73 L945.28,540.79 L945.79,540.85 L946.30,540.92 L946.82,540.98 L947.33,541.05 L947.84,541.11 L948.36,541.17 L948.87,541.24 L949.38,541.30 L949.90,541.37 L950.41,541.43 L950.93,541.49 L951.44,541.56 L951.95,541.62 L952.47,541.68 L952.98,541.75 L953.49,541.81 L954.01,541.87 L954.52,541.93 L955.04,542.00 L955.55,542.06 L956.06,542.12 L956.58,542.18 L957.09,542.25 L957.60,542.31 L958.12,542.37 L958.63,542.43 L959.15,542.49 L959.66,542.55 L960.17,542.62 L960.69,542.68 L961.20,542.74 L961.71,542.80 L962.23,542.86 L962.74,542.92 L963.26,542.98 L963.77,543.04 L964.28,543.10 L964.80,543.17 L965.31,543.23 L965.82,543.29 L966.34,543.35 L966.85,543.41 L967.37,543.47 L967.88,543.53 L968.39,543.59 L968.91,543.65 L969.42,543.71 L969.93,543.77 L970.45,543.83 L970.96,543.88 L971.47,543.94 L971.99,544.00 L972.50,544.06 L973.02,544.12 L973.53,544.18 L974.04,544.24 L974.56,544.30 L975.07,544.36 L975.58,544.42 L976.10,544.47 L976.61,544.53 L977.13,544.59 L977.64,544.65 L978.15,544.71 L978.67,544.76 L979.18,544.82 L979.69,544.88 L980.21,544.94 L980.72,545.00 L981.24,545.05 L981.75,545.11 L982.26,545.17 L982.78,545.23 L983.29,545.28 L983.80,545.34 L984.32,545.40 L984.83,545.45 L985.35,545.51 L985.86,545.57 L986.37,545.62 L986.89,545.68 L987.40,545.74 L987.91,545.79 L988.43,545.85 L988.94,545.91 L989.46,545.96 L989.97,546.02 L990.48,546.07 L991.00,546.13 L991.51,546.19 L992.02,546.24 L992.54,546.30 L993.05,546.35 L993.57,546.41 L994.08,546.46 L994.59,546.52 L995.11,546.57 L995.62,546.63 L996.13,546.68 L996.65,546.74 L997.16,546.79 L997.67,546.85 L998.19,546.90 L998.70,546.96 L999.22,547.01 L999.73,547.07 L1000.24,547.12 L1000.76,547.17 L1001.27,547.23 L1001.78,547.28 L1002.30,547.34 L1002.81,547.39 L1003.33,547.44 L1003.84,547.50 L1004.35,547.55 L1004.87,547.61 L1005.38,547.66 L1005.89,547.71 L1006.41,547.77 L1006.92,547.82 L1007.44,547.87 L1007.95,547.92 L1008.46,547.98 L1008.98,548.03 L1009.49,548.08 L1010.00,548.14 L1010.52,548.19 L1011.03,548.24 L1011.55,548.29 L1012.06,548.35 L1012.57,548.40 L1013.09,548.45 L1013.60,548.50 L1014.11,548.56 L1014.63,548.61 L1015.14,548.66 L1015.66,548.71 L1016.17,548.76 L1016.68,548.81 L1017.20,548.87 L1017.71,548.92 L1018.22,548.97 L1018.74,549.02 L1019.25,549.07 L1019.76,549.12 L1020.28,549.17 L1020.79,549.23 L1021.31,549.28 L1021.82,549.33 L1022.33,549.38 L1022.85,549.43 L1023.36,549.48 L1023.87,549.53 L1024.39,549.58 L1024.90,549.63 L1025.42,549.68 L1025.93,549.73 L1026.44,549.78 L1026.96,549.83 L1027.47,549.88 L1027.98,549.93 L1028.50,549.98 L1029.01,550.03 L1029.53,550.08 L1030.04,550.13 L1030.55,550.18 L1031.07,550.23 L1031.58,550.28 L1032.09,550.33 L1032.61,550.38 L1033.12,550.43 L1033.64,550.48 L1034.15,550.53 L1034.66,550.58 L1035.18,550.62 L1035.69,550.67 L1036.20,550.72 L1036.72,550.77 L1037.23,550.82 L1037.75,550.87 L1038.26,550.92 L1038.77,550.97 L1039.29,551.01 L1039.80,551.06" stroke="#D95319" stroke-width="4.9" stroke-dasharray="19.4 20.1" stroke-dashoffset="-0.5"/>
<path d="M375.70,85.80 L405.58,85.80 L435.47,85.80 L435.97,85.80 L436.48,85.80 L436.98,85.80 L437.49,85.81 L437.99,85.82 L438.49,85.83 L439.00,85.85 L439.50,85.89 L440.01,85.97 L440.51,86.11 L441.01,86.36 L441.52,86.78 L442.02,87.46 L442.53,88.47 L443.03,89.84 L443.53,91.53 L444.04,93.46 L444.54,95.56 L445.05,97.76 L445.55,100.01 L446.05,102.29 L446.56,104.59 L447.06,106.89 L447.57,109.18 L448.07,111.48 L448.57,113.77 L449.08,116.06 L449.58,118.34 L450.09,120.61 L450.59,122.87 L451.09,125.12 L451.60,127.36 L452.10,129.60 L452.61,131.82 L453.11,134.04 L453.61,136.24 L454.12,138.43 L454.62,140.62 L455.13,142.79 L455.63,144.95 L456.13,147.09 L456.64,149.23 L457.14,151.35 L457.65,153.47 L458.15,155.57 L458.65,157.65 L459.16,159.73 L459.66,161.79 L460.17,163.84 L460.67,165.88 L461.17,167.90 L461.68,169.92 L462.18,171.91 L462.69,173.90 L463.19,175.88 L463.69,177.84 L464.20,179.78 L464.70,181.72 L465.21,183.64 L465.71,185.55 L466.21,187.45 L466.72,189.34 L467.22,191.21 L467.73,193.07 L468.23,194.91 L468.73,196.75 L469.24,198.57 L469.74,200.38 L470.25,202.17 L470.75,203.96 L471.26,205.73 L471.76,207.49 L472.26,209.24 L472.77,210.97 L473.27,212.70 L473.78,214.41 L474.28,216.11 L474.78,217.80 L475.29,219.47 L475.79,221.14 L476.30,222.79 L476.80,224.43 L477.30,226.06 L477.81,227.68 L478.31,229.28 L478.82,230.88 L479.32,232.46 L479.82,234.03 L480.33,235.60 L480.83,237.15 L481.34,238.69 L481.84,240.22 L482.34,241.74 L482.85,243.24 L483.35,244.74 L483.86,246.23 L484.36,247.70 L484.86,249.17 L485.37,250.63 L485.87,252.07 L486.38,253.51 L486.88,254.93 L487.38,256.35 L487.89,257.76 L488.39,259.15 L488.90,260.54 L489.40,261.92 L489.90,263.28 L490.41,264.64 L490.91,265.99 L491.42,267.33 L491.92,268.66 L492.42,269.98 L492.93,271.30 L493.43,272.60 L493.94,273.89 L494.44,275.18 L494.94,276.46 L495.45,277.72 L495.95,278.98 L496.46,280.24 L496.96,281.48 L497.46,282.71 L497.97,283.94 L498.47,285.16 L498.98,286.37 L499.48,287.57 L499.98,288.76 L500.49,289.95 L500.99,291.13 L501.50,292.30 L502.00,293.46 L502.50,294.61 L503.01,295.76 L503.51,296.90 L504.02,298.03 L504.52,299.16 L505.03,300.27 L505.53,301.38 L506.03,302.49 L506.54,303.58 L507.04,304.67 L507.55,305.75 L508.05,306.83 L508.55,307.89 L509.06,308.96 L509.56,310.01 L510.07,311.06 L510.57,312.10 L511.07,313.13 L511.58,314.16 L512.08,315.18 L512.59,316.19 L513.09,317.20 L513.59,318.20 L514.10,319.20 L514.60,320.19 L515.11,321.17 L515.61,322.15 L516.11,323.12 L516.62,324.08 L517.12,325.04 L517.63,326.00 L518.13,326.94 L518.63,327.89 L519.14,328.82 L519.64,329.75 L520.15,330.67 L520.65,331.59 L521.15,332.51 L521.66,333.41 L522.16,334.32 L522.67,335.21 L523.17,336.10 L523.67,336.99 L524.18,337.87 L524.68,338.74 L525.19,339.61 L525.69,340.48 L526.19,341.34 L526.70,342.19 L527.20,343.04 L527.71,343.89 L528.21,344.73 L528.71,345.56 L529.22,346.39 L529.72,347.22 L530.23,348.04 L530.73,348.85 L531.23,349.66 L531.74,350.47 L532.24,351.27 L532.75,352.07 L533.25,352.86 L533.75,353.65 L534.26,354.43 L534.76,355.21 L535.27,355.98 L535.77,356.75 L536.27,357.52 L536.78,358.28 L537.28,359.04 L537.79,359.79 L538.29,360.54 L538.79,361.28 L539.30,362.02 L539.80,362.76 L540.31,363.49 L540.81,364.22 L541.32,364.94 L541.82,365.66 L542.32,366.38 L542.83,367.09 L543.33,367.80 L543.84,368.50 L544.34,369.20 L544.84,369.90 L545.35,370.59 L545.85,371.28 L546.36,371.97 L546.86,372.65 L547.36,373.33 L547.87,374.00 L548.37,374.67 L548.88,375.34 L549.38,376.00 L549.88,376.66 L550.39,377.32 L550.89,377.97 L551.40,378.62 L551.90,379.27 L552.40,379.91 L552.91,380.55 L553.41,381.19 L553.92,381.82 L554.42,382.45 L554.92,383.08 L555.43,383.70 L555.93,384.32 L556.44,384.94 L556.94,385.55 L557.44,386.16 L557.95,386.77 L558.45,387.38 L558.96,388.02 L559.46,388.65 L559.96,389.28 L560.47,389.91 L560.97,390.53 L561.48,391.15 L561.98,391.77 L562.48,392.38 L562.99,392.99 L563.49,393.60 L564.00,394.20 L564.50,394.80 L565.00,395.39 L565.51,395.99 L566.01,396.57 L566.52,397.16 L567.02,397.74 L567.52,398.32 L568.03,398.90 L568.53,399.47 L569.04,400.04 L569.54,400.61 L570.04,401.17 L570.55,401.74 L571.05,402.29 L571.56,402.85 L572.06,403.40 L572.56,403.95 L573.07,404.50 L573.57,405.04 L574.08,405.58 L574.58,406.12 L575.09,406.65 L575.59,407.19 L576.09,407.71 L576.60,408.24 L577.10,408.76 L577.61,409.29 L578.11,409.80 L578.61,410.32 L579.12,410.83 L579.62,411.34 L580.13,411.85 L580.63,412.36 L581.13,412.86 L581.64,413.36 L582.14,413.86 L582.65,414.35 L583.15,414.85 L583.65,415.34 L584.16,415.82 L584.66,416.31 L585.17,416.79 L585.67,417.27 L586.17,417.75 L586.68,418.23 L587.18,418.70 L587.69,419.17 L588.19,419.64 L588.69,420.10 L589.20,420.57 L589.70,421.03 L590.21,421.49 L590.71,421.95 L591.21,422.40 L591.72,422.86 L592.22,423.31 L592.73,423.75 L593.23,424.20 L593.73,424.65 L594.24,425.09 L594.74,425.53 L595.25,425.97 L595.75,426.40 L596.25,426.83 L596.76,427.27 L597.26,427.70 L597.77,428.12 L598.27,428.55 L598.77,428.97 L599.28,429.39 L599.78,429.81 L600.29,430.23 L600.79,430.65 L601.29,431.06 L601.80,431.47 L602.30,431.88 L602.81,432.29 L603.31,432.70 L603.81,433.10 L604.32,433.51 L604.82,433.91 L605.33,434.31 L605.83,434.70 L606.33,435.10 L606.84,435.49 L607.34,435.88 L607.85,436.27 L608.35,436.66 L608.86,437.05 L609.36,437.43 L609.86,437.82 L610.37,438.20 L610.87,438.58 L611.38,438.96 L611.88,439.33 L612.38,439.71 L612.89,440.08 L613.39,440.45 L613.90,440.82 L614.40,441.19 L614.90,441.56 L615.41,441.92 L615.91,442.28 L616.42,442.65 L616.92,443.01 L617.42,443.37 L617.93,443.72 L618.43,444.08 L618.94,444.43 L619.44,444.79 L619.94,445.14 L620.45,445.49 L620.95,445.83 L621.46,446.18 L621.96,446.53 L622.46,446.87 L622.97,447.21 L623.47,447.55 L623.98,447.89 L624.48,448.23 L624.98,448.57 L625.49,448.90 L625.99,449.24 L626.50,449.57 L627.00,449.90 L627.50,450.23 L628.01,450.56 L628.51,450.89 L629.02,451.21 L629.52,451.54 L630.02,451.86 L630.53,452.18 L631.03,452.50 L631.54,452.82 L632.04,453.14 L632.54,453.46 L633.05,453.77 L633.55,454.09 L634.06,454.40 L634.56,454.71 L635.06,455.02 L635.57,455.33 L636.07,455.64 L636.58,455.94 L637.08,456.25 L637.58,456.55 L638.09,456.86 L638.59,457.16 L639.10,457.46 L639.60,457.76 L640.10,458.06 L640.61,458.35 L641.11,458.65 L641.62,458.94 L642.12,459.24 L642.62,459.53 L643.13,459.82 L643.63,460.11 L644.14,460.40 L644.64,460.69 L645.15,460.98 L645.65,461.26 L646.15,461.55 L646.66,461.83 L647.16,462.11 L647.67,462.40 L648.17,462.68 L648.67,462.96 L649.18,463.23 L649.68,463.51 L650.19,463.79 L650.69,464.06 L651.19,464.34 L651.70,464.61 L652.20,464.88 L652.71,465.15 L653.21,465.42 L653.71,465.69 L654.22,465.96 L654.72,466.23 L655.23,466.50 L655.73,466.76 L656.23,467.02 L656.74,467.29 L657.24,467.55 L657.75,467.81 L658.25,468.07 L658.75,468.33 L659.26,468.59 L659.76,468.85 L660.27,469.10 L660.77,469.36 L661.27,469.62 L661.78,469.87 L662.28,470.12 L662.79,470.37 L663.29,470.63 L663.79,470.88 L664.30,471.13 L664.80,471.37 L665.31,471.62 L665.81,471.87 L666.31,472.12 L666.82,472.36 L667.32,472.60 L667.83,472.85 L668.33,473.09 L668.83,473.33 L669.34,473.57 L669.84,473.81 L670.35,474.05 L670.85,474.29 L671.35,474.53 L671.86,474.77 L672.36,475.00 L672.87,475.24 L673.37,475.47 L673.87,475.70 L674.38,475.94 L674.88,476.17 L675.39,476.40 L675.89,476.63 L676.39,476.86 L676.90,477.09 L677.40,477.32 L677.91,477.54 L678.41,477.77 L678.92,478.00 L679.42,478.22 L679.92,478.45 L680.43,478.67 L680.93,478.89 L681.44,479.11 L681.94,479.34 L682.44,479.56 L682.95,479.78 L683.45,480.00 L683.96,480.21 L684.46,480.43 L684.96,480.65 L685.47,480.86 L685.97,481.08 L686.48,481.29 L686.98,481.51 L687.48,481.72 L687.99,481.93 L688.49,482.15 L689.00,482.36 L689.50,482.57 L690.00,482.78 L690.51,482.99 L691.01,483.20 L691.52,483.40 L692.02,483.61 L692.52,483.82 L693.03,484.02 L693.53,484.23 L694.04,484.44 L694.54,484.64 L695.04,484.84 L695.55,485.05 L696.05,485.25 L696.56,485.45 L697.06,485.65 L697.56,485.85 L698.07,486.05 L698.57,486.25 L699.08,486.45 L699.58,486.64 L700.08,486.84 L700.59,487.04 L701.09,487.23 L701.60,487.43 L702.10,487.62 L702.60,487.82 L703.11,488.01 L703.61,488.20 L704.12,488.40 L704.62,488.59 L705.12,488.78 L705.63,488.97 L706.13,489.16 L706.64,489.35 L707.14,489.54 L707.64,489.73 L708.15,489.91 L708.65,490.10 L709.16,490.29 L709.66,490.47 L710.16,490.66 L710.67,490.84 L711.17,491.03 L711.68,491.21 L712.18,491.40 L712.69,491.58 L713.19,491.76 L713.69,491.94 L714.20,492.12 L714.70,492.30 L715.21,492.48 L715.71,492.66 L716.21,492.84 L716.72,493.02 L717.22,493.20 L717.73,493.37 L718.23,493.55 L718.73,493.73 L719.24,493.90 L719.74,494.08 L720.25,494.25 L720.75,494.43 L721.25,494.60 L721.76,494.78 L722.26,494.95 L722.77,495.12 L723.27,495.29 L723.77,495.46 L724.28,495.63 L724.78,495.80 L725.29,495.97 L725.79,496.14 L726.29,496.31 L726.80,496.48 L727.30,496.65 L727.81,496.82 L728.31,496.98 L728.81,497.15 L729.32,497.31 L729.82,497.48 L730.33,497.65 L730.83,497.81 L731.33,497.97 L731.84,498.14 L732.34,498.30 L732.85,498.46 L733.35,498.63 L733.85,498.79 L734.36,498.95 L734.86,499.11 L735.37,499.27 L735.87,499.43 L736.37,499.59 L736.88,499.75 L737.38,499.91 L737.89,500.07 L738.39,500.22 L738.89,500.38 L739.40,500.54 L739.90,500.70 L740.41,500.85 L740.91,501.01 L741.41,501.16 L741.92,501.32 L742.42,501.47 L742.93,501.63 L743.43,501.78 L743.93,501.93 L744.44,502.09 L744.94,502.24 L745.45,502.39 L745.95,502.54 L746.46,502.69 L746.96,502.84 L747.46,502.99 L747.97,503.14 L748.47,503.29 L748.98,503.44 L749.48,503.59 L749.98,503.74 L750.49,503.89 L750.99,504.03 L751.50,504.18 L752.00,504.33 L752.50,504.47 L753.01,504.62 L753.51,504.77 L754.02,504.91 L754.52,505.06 L755.02,505.20 L755.53,505.35 L756.03,505.49 L756.54,505.63 L757.04,505.78 L757.54,505.92 L758.05,506.06 L758.55,506.20 L759.06,506.34 L759.56,506.48 L760.06,506.63 L760.57,506.77 L761.07,506.91 L761.58,507.05 L762.08,507.18 L762.58,507.32 L763.09,507.46 L763.59,507.60 L764.10,507.74 L764.60,507.88 L765.10,508.01 L765.61,508.15 L766.11,508.29 L766.62,508.42 L767.12,508.56 L767.62,508.69 L768.13,508.83 L768.63,508.96 L769.14,509.10 L769.64,509.23 L770.14,509.37 L770.65,509.50 L771.15,509.63 L771.66,509.77 L772.16,509.90 L772.66,510.03 L773.17,510.16 L773.67,510.29 L774.18,510.42 L774.68,510.56 L775.18,510.69 L775.69,510.82 L776.19,510.95 L776.70,511.08 L777.20,511.20 L777.70,511.33 L778.21,511.46 L778.71,511.59 L779.22,511.72 L779.72,511.85 L780.22,511.97 L780.73,512.10 L781.23,512.23 L781.74,512.35 L782.24,512.48 L782.75,512.61 L783.25,512.73 L783.75,512.86 L784.26,512.98 L784.76,513.11 L785.27,513.23 L785.77,513.35 L786.27,513.48 L786.78,513.60 L787.28,513.72 L787.79,513.85 L788.29,513.97 L788.79,514.09 L789.30,514.21 L789.80,514.34 L790.31,514.46 L790.81,514.58 L791.31,514.70 L791.82,514.82 L792.32,514.94 L792.83,515.06 L793.33,515.18 L793.83,515.30 L794.34,515.42 L794.84,515.54 L795.35,515.65 L795.85,515.77 L796.35,515.89 L796.86,516.01 L797.36,516.13 L797.87,516.24 L798.37,516.36 L798.87,516.48 L799.38,516.59 L799.88,516.71 L800.39,516.82 L800.89,516.94 L801.39,517.06 L801.90,517.17 L802.40,517.28 L802.91,517.40 L803.41,517.51 L803.91,517.63 L804.42,517.74 L804.92,517.85 L805.43,517.97 L805.93,518.08 L806.43,518.19 L806.94,518.31 L807.44,518.42 L807.95,518.53 L808.45,518.64 L808.95,518.75 L809.46,518.86 L809.96,518.97 L810.47,519.09 L810.97,519.20 L811.47,519.31 L811.98,519.42 L812.48,519.52 L812.99,519.63 L813.49,519.74 L813.99,519.85 L814.50,519.96 L815.00,520.07 L815.51,520.18 L816.01,520.29 L816.52,520.39 L817.02,520.50 L817.52,520.61 L818.03,520.71 L818.53,520.82 L819.04,520.93 L819.54,521.03 L820.04,521.14 L820.55,521.25 L821.05,521.35 L821.56,521.46 L822.06,521.56 L822.56,521.67 L823.07,521.77 L823.57,521.88 L824.08,521.98 L824.58,522.08 L825.08,522.19 L825.59,522.29 L826.09,522.39 L826.60,522.50 L827.10,522.60 L827.60,522.70 L828.11,522.80 L828.61,522.91 L829.12,523.01 L829.62,523.11 L830.12,523.21 L830.63,523.31 L831.13,523.41 L831.64,523.51 L832.14,523.62 L832.64,523.72 L833.15,523.82 L833.65,523.92 L834.16,524.02 L834.66,524.12 L835.16,524.21 L835.67,524.31 L836.17,524.41 L836.68,524.51 L837.18,524.61 L837.68,524.71 L838.19,524.81 L838.69,524.90 L839.20,525.00 L839.70,525.10 L840.20,525.20 L840.71,525.29 L841.21,525.39 L841.72,525.49 L842.22,525.58 L842.72,525.68 L843.23,525.78 L843.73,525.87 L844.24,525.97 L844.74,526.06 L845.24,526.16 L845.75,526.25 L846.25,526.35 L846.76,526.44 L847.26,526.54 L847.76,526.63 L848.27,526.72 L848.77,526.82 L849.28,526.91 L849.78,527.01 L850.29,527.10 L850.79,527.19 L851.29,527.28 L851.80,527.38 L852.30,527.47 L852.81,527.56 L853.31,527.65 L853.81,527.75 L854.32,527.84 L854.82,527.93 L855.33,528.02 L855.83,528.11 L856.33,528.20 L856.84,528.29 L857.34,528.38 L857.85,528.47 L858.35,528.57 L858.85,528.66 L859.36,528.74 L859.86,528.83 L860.37,528.92 L860.87,529.01 L861.37,529.10 L861.88,529.19 L862.38,529.28 L862.89,529.37 L863.39,529.46 L863.89,529.55 L864.40,529.63 L864.90,529.72 L865.41,529.81 L865.91,529.90 L866.41,529.98 L866.92,530.07 L867.42,530.16 L867.93,530.25 L868.43,530.33 L868.93,530.42 L869.44,530.51 L869.94,530.59 L870.45,530.68 L870.95,530.76 L871.45,530.85 L871.96,530.93 L872.46,531.02 L872.97,531.10 L873.47,531.19 L873.97,531.27 L874.48,531.36 L874.98,531.44 L875.49,531.53 L875.99,531.61 L876.49,531.70 L877.00,531.78 L877.50,531.86 L878.01,531.95 L878.51,532.03 L879.01,532.11 L879.52,532.20 L880.02,532.28 L880.53,532.36 L881.03,532.45 L881.53,532.53 L882.04,532.61 L882.54,532.69 L883.05,532.77 L883.55,532.86 L884.05,532.94 L884.56,533.02 L885.06,533.10 L885.57,533.18 L886.07,533.26 L886.58,533.34 L887.08,533.42 L887.58,533.50 L888.09,533.58 L888.59,533.66 L889.10,533.74 L889.60,533.82 L890.10,533.90 L890.61,533.98 L891.11,534.06 L891.62,534.14 L892.12,534.22 L892.62,534.30 L893.13,534.38 L893.63,534.46 L894.14,534.54 L894.64,534.61 L895.14,534.69 L895.65,534.77 L896.15,534.85 L896.66,534.93 L897.16,535.00 L897.66,535.08 L898.17,535.16 L898.67,535.24 L899.18,535.31 L899.68,535.39 L900.18,535.47 L900.69,535.54 L901.19,535.62 L901.70,535.70 L902.20,535.77 L902.70,535.85 L903.21,535.93 L903.71,536.00 L904.22,536.08 L904.72,536.15 L905.22,536.23 L905.73,536.30 L906.23,536.38 L906.74,536.45 L907.24,536.53 L907.74,536.60 L908.25,536.68 L908.75,536.75 L909.26,536.83 L909.76,536.90 L910.26,536.97 L910.77,537.05 L911.27,537.12 L911.78,537.20 L912.28,537.27 L912.78,537.34 L913.29,537.42 L913.79,537.49 L914.30,537.56 L914.80,537.63 L915.30,537.71 L915.81,537.78 L916.31,537.85 L916.82,537.92 L917.32,538.00 L917.82,538.07 L918.33,538.14 L918.83,538.21 L919.34,538.28 L919.84,538.35 L920.35,538.43 L920.85,538.50 L921.35,538.57 L921.86,538.64 L922.36,538.71 L922.87,538.78 L923.37,538.85 L923.87,538.92 L924.38,538.99 L924.88,539.06 L925.39,539.13 L925.89,539.20 L926.39,539.27 L926.90,539.34 L927.40,539.41 L927.91,539.48 L928.41,539.55 L928.91,539.62 L929.42,539.69 L929.92,539.76 L930.43,539.83 L930.93,539.90 L931.43,539.96 L931.94,540.03 L932.44,540.10 L932.95,540.17 L933.45,540.24 L933.95,540.31 L934.46,540.37 L934.96,540.44 L935.47,540.51 L935.97,540.58 L936.47,540.64 L936.98,540.71 L937.48,540.78 L937.99,540.85 L938.49,540.91 L938.99,540.98 L939.50,541.05 L940.00,541.11 L940.51,541.18 L941.01,541.25 L941.51,541.31 L942.02,541.38 L942.52,541.44 L943.03,541.51 L943.53,541.58 L944.03,541.64 L944.54,541.71 L945.04,541.77 L945.55,541.84 L946.05,541.90 L946.55,541.97 L947.06,542.03 L947.56,542.10 L948.07,542.16 L948.57,542.23 L949.07,542.29 L949.58,542.36 L950.08,542.42 L950.59,542.48 L951.09,542.55 L951.59,542.61 L952.10,542.68 L952.60,542.74 L953.11,542.80 L953.61,542.87 L954.12,542.93 L954.62,542.99 L955.12,543.06 L955.63,543.12 L956.13,543.18 L956.64,543.25 L957.14,543.31 L957.64,543.37 L958.15,543.44 L958.65,543.50 L959.16,543.56 L959.66,543.62 L960.16,543.68 L960.67,543.75 L961.17,543.81 L961.68,543.87 L962.18,543.93 L962.68,543.99 L963.19,544.06 L963.69,544.12 L964.20,544.18 L964.70,544.24 L965.20,544.30 L965.71,544.36 L966.21,544.42 L966.72,544.48 L967.22,544.54 L967.72,544.61 L968.23,544.67 L968.73,544.73 L969.24,544.79 L969.74,544.85 L970.24,544.91 L970.75,544.97 L971.25,545.03 L971.76,545.09 L972.26,545.15 L972.76,545.21 L973.27,545.27 L973.77,545.33 L974.28,545.39 L974.78,545.44 L975.28,545.50 L975.79,545.56 L976.29,545.62 L976.80,545.68 L977.30,545.74 L977.80,545.80 L978.31,545.86 L978.81,545.92 L979.32,545.97 L979.82,546.03 L980.32,546.09 L980.83,546.15 L981.33,546.21 L981.84,546.26 L982.34,546.32 L982.84,546.38 L983.35,546.44 L983.85,546.50 L984.36,546.55 L984.86,546.61 L985.36,546.67 L985.87,546.72 L986.37,546.78 L986.88,546.84 L987.38,546.90 L987.88,546.95 L988.39,547.01 L988.89,547.07 L989.40,547.12 L989.90,547.18 L990.41,547.24 L990.91,547.29 L991.41,547.35 L991.92,547.40 L992.42,547.46 L992.93,547.52 L993.43,547.57 L993.93,547.63 L994.44,547.68 L994.94,547.74 L995.45,547.79 L995.95,547.85 L996.45,547.90 L996.96,547.96 L997.46,548.01 L997.97,548.07 L998.47,548.12 L998.97,548.18 L999.48,548.23 L999.98,548.29 L1000.49,548.34 L1000.99,548.40 L1001.49,548.45 L1002.00,548.51 L1002.50,548.56 L1003.01,548.62 L1003.51,548.67 L1004.01,548.72 L1004.52,548.78 L1005.02,548.83 L1005.53,548.89 L1006.03,548.94 L1006.53,548.99 L1007.04,549.05 L1007.54,549.10 L1008.05,549.15 L1008.55,549.21 L1009.05,549.26 L1009.56,549.31 L1010.06,549.37 L1010.57,549.42 L1011.07,549.47 L1011.57,549.52 L1012.08,549.58 L1012.58,549.63 L1013.09,549.68 L1013.59,549.73 L1014.09,549.79 L1014.60,549.84 L1015.10,549.89 L1015.61,549.94 L1016.11,550.00 L1016.61,550.05 L1017.12,550.10 L1017.62,550.15 L1018.13,550.20 L1018.63,550.25 L1019.13,550.31 L1019.64,550.36 L1020.14,550.41 L1020.65,550.46 L1021.15,550.51 L1021.65,550.56 L1022.16,550.61 L1022.66,550.66 L1023.17,550.72 L1023.67,550.77 L1024.18,550.82 L1024.68,550.87 L1025.18,550.92 L1025.69,550.97 L1026.19,551.02 L1026.70,551.07 L1027.20,551.12 L1027.70,551.17 L1028.21,551.22 L1028.71,551.27 L1029.22,551.32 L1029.72,551.37 L1030.22,551.42 L1030.73,551.47 L1031.23,551.52 L1031.74,551.57 L1032.24,551.62 L1032.74,551.67 L1033.25,551.72 L1033.75,551.77 L1034.26,551.82 L1034.76,551.87 L1035.26,551.92 L1035.77,551.96 L1036.27,552.01 L1036.78,552.06 L1037.28,552.11 L1037.78,552.16 L1038.29,552.21 L1038.79,552.26 L1039.30,552.31 L1039.80,552.35" stroke="#EDB120" stroke-width="4.9" stroke-dasharray="19.4 5.3 9.75 5.27"/>
<path d="M375.70,85.80 L399.36,85.80 L423.02,86.87 L423.53,85.80 L424.05,85.80 L424.56,85.80 L425.07,85.80 L425.59,85.85 L426.10,86.75 L426.62,87.92 L427.13,89.34 L427.65,90.98 L428.16,92.82 L428.68,94.83 L429.19,96.99 L429.70,99.29 L430.22,101.71 L430.73,104.23 L431.25,106.84 L431.76,109.53 L432.28,112.30 L432.79,115.11 L433.31,117.98 L433.82,120.90 L434.33,123.84 L434.85,126.82 L435.36,129.81 L435.88,132.83 L436.39,135.85 L436.91,138.89 L437.42,141.93 L437.94,144.96 L438.45,148.00 L438.96,151.03 L439.48,154.06 L439.99,157.07 L440.51,160.07 L441.02,163.06 L441.54,166.03 L442.05,168.98 L442.56,171.92 L443.08,174.84 L443.59,177.73 L444.11,180.61 L444.62,183.46 L445.14,186.29 L445.65,189.10 L446.17,191.88 L446.68,194.64 L447.19,197.37 L447.71,200.08 L448.22,202.77 L448.74,205.42 L449.25,208.06 L449.77,210.67 L450.28,213.25 L450.80,215.81 L451.31,218.34 L451.82,220.84 L452.34,223.32 L452.85,225.78 L453.37,228.21 L453.88,230.61 L454.40,232.99 L454.91,235.35 L455.43,237.68 L455.94,239.98 L456.45,242.27 L456.97,244.52 L457.48,246.76 L458.00,248.97 L458.51,251.16 L459.03,253.32 L459.54,255.46 L460.05,257.58 L460.57,259.68 L461.08,261.75 L461.60,263.80 L462.11,265.83 L462.63,267.84 L463.14,269.83 L463.66,271.80 L464.17,273.75 L464.68,275.68 L465.20,277.58 L465.71,279.47 L466.23,281.34 L466.74,283.19 L467.26,285.02 L467.77,286.83 L468.29,288.62 L468.80,290.39 L469.31,292.15 L469.83,293.89 L470.34,295.61 L470.86,297.31 L471.37,299.00 L471.89,300.66 L472.40,302.32 L472.92,303.95 L473.43,305.57 L473.94,307.18 L474.46,308.76 L474.97,310.34 L475.49,311.89 L476.00,313.43 L476.52,314.96 L477.03,316.47 L477.55,317.97 L478.06,319.45 L478.57,320.92 L479.09,322.38 L479.60,323.82 L480.12,325.24 L480.63,326.66 L481.15,328.06 L481.66,329.44 L482.17,330.82 L482.69,332.18 L483.20,333.53 L483.72,334.87 L484.23,336.19 L484.75,337.50 L485.26,338.80 L485.78,340.09 L486.29,341.37 L486.80,342.63 L487.32,343.89 L487.83,345.13 L488.35,346.36 L488.86,347.58 L489.38,348.79 L489.89,349.99 L490.41,351.18 L490.92,352.36 L491.43,353.52 L491.95,354.68 L492.46,355.83 L492.98,356.97 L493.49,358.10 L494.01,359.22 L494.52,360.32 L495.04,361.42 L495.55,362.52 L496.06,363.60 L496.58,364.67 L497.09,365.73 L497.61,366.79 L498.12,367.83 L498.64,368.87 L499.15,369.90 L499.66,370.92 L500.18,371.93 L500.69,372.93 L501.21,373.93 L501.72,374.92 L502.24,375.90 L502.75,376.87 L503.27,377.83 L503.78,378.79 L504.29,379.74 L504.81,380.68 L505.32,381.61 L505.84,382.54 L506.35,383.46 L506.87,384.37 L507.38,385.28 L507.90,386.18 L508.41,387.07 L508.92,387.95 L509.44,388.83 L509.95,389.70 L510.47,390.56 L510.98,391.42 L511.50,392.27 L512.01,393.12 L512.53,393.96 L513.04,394.79 L513.55,395.62 L514.07,396.44 L514.58,397.25 L515.10,398.06 L515.61,398.86 L516.13,399.66 L516.64,400.45 L517.15,401.24 L517.67,402.02 L518.18,402.79 L518.70,403.56 L519.21,404.32 L519.73,405.08 L520.24,405.83 L520.76,406.58 L521.27,407.32 L521.78,408.06 L522.30,408.79 L522.81,409.51 L523.33,410.23 L523.84,410.95 L524.36,411.66 L524.87,412.37 L525.39,413.07 L525.90,413.77 L526.41,414.46 L526.93,415.15 L527.44,415.83 L527.96,416.51 L528.47,417.18 L528.99,417.85 L529.50,418.51 L530.02,419.17 L530.53,419.83 L531.04,420.48 L531.56,421.13 L532.07,421.77 L532.59,422.41 L533.10,423.05 L533.62,423.68 L534.13,424.30 L534.65,424.92 L535.16,425.54 L535.67,426.16 L536.19,426.77 L536.70,427.37 L537.22,427.98 L537.73,428.58 L538.25,429.17 L538.76,429.76 L539.27,430.35 L539.79,430.93 L540.30,431.51 L540.82,432.09 L541.33,432.66 L541.85,433.23 L542.36,433.80 L542.88,434.36 L543.39,434.92 L543.90,435.48 L544.42,436.03 L544.93,436.58 L545.45,437.13 L545.96,437.67 L546.48,438.21 L546.99,438.74 L547.51,439.28 L548.02,439.81 L548.53,440.33 L549.05,440.86 L549.56,441.38 L550.08,441.89 L550.59,442.41 L551.11,442.92 L551.62,443.43 L552.14,443.93 L552.65,444.43 L553.16,444.93 L553.68,445.43 L554.19,445.92 L554.71,446.41 L555.22,446.90 L555.74,447.39 L556.25,447.87 L556.76,448.35 L557.28,448.83 L557.79,449.30 L558.31,449.77 L558.82,450.24 L559.34,450.71 L559.85,451.17 L560.37,451.63 L560.88,452.09 L561.39,452.55 L561.91,453.00 L562.42,453.45 L562.94,453.90 L563.45,454.35 L563.97,454.79 L564.48,455.23 L565.00,455.67 L565.51,456.11 L566.02,456.54 L566.54,456.97 L567.05,457.40 L567.57,457.83 L568.08,458.25 L568.60,458.68 L569.11,459.10 L569.63,459.52 L570.14,459.93 L570.65,460.35 L571.17,460.76 L571.68,461.17 L572.20,461.57 L572.71,461.98 L573.23,462.38 L573.74,462.78 L574.25,463.18 L574.77,463.58 L575.28,463.97 L575.80,464.37 L576.31,464.76 L576.83,465.15 L577.34,465.53 L577.86,465.92 L578.37,466.30 L578.88,466.68 L579.40,467.06 L579.91,467.44 L580.43,467.81 L580.94,468.19 L581.46,468.56 L581.97,468.93 L582.49,469.30 L583.00,469.66 L583.51,470.03 L584.03,470.39 L584.54,470.75 L585.06,471.11 L585.57,471.46 L586.09,471.82 L586.60,472.17 L587.12,472.52 L587.63,472.87 L588.14,473.22 L588.66,473.57 L589.17,473.91 L589.69,474.26 L590.20,474.60 L590.72,474.94 L591.23,475.28 L591.75,475.62 L592.26,475.95 L592.77,476.28 L593.29,476.62 L593.80,476.95 L594.32,477.28 L594.83,477.60 L595.35,477.93 L595.86,478.25 L596.37,478.58 L596.89,478.90 L597.40,479.22 L597.92,479.54 L598.43,479.85 L598.95,480.17 L599.46,480.48 L599.98,480.80 L600.49,481.11 L601.00,481.42 L601.52,481.73 L602.03,482.03 L602.55,482.34 L603.06,482.64 L603.58,482.95 L604.09,483.25 L604.61,483.55 L605.12,483.85 L605.63,484.14 L606.15,484.44 L606.66,484.73 L607.18,485.03 L607.69,485.32 L608.21,485.61 L608.72,485.90 L609.24,486.19 L609.75,486.47 L610.26,486.76 L610.78,487.05 L611.29,487.33 L611.81,487.61 L612.32,487.89 L612.84,488.17 L613.35,488.45 L613.86,488.73 L614.38,489.00 L614.89,489.28 L615.41,489.55 L615.92,489.82 L616.44,490.09 L616.95,490.37 L617.47,490.63 L617.98,490.90 L618.49,491.17 L619.01,491.43 L619.52,491.70 L620.04,491.96 L620.55,492.22 L621.07,492.49 L621.58,492.75 L622.10,493.00 L622.61,493.26 L623.12,493.52 L623.64,493.77 L624.15,494.03 L624.67,494.28 L625.18,494.54 L625.70,494.79 L626.21,495.04 L626.73,495.29 L627.24,495.54 L627.75,495.78 L628.27,496.03 L628.78,496.28 L629.30,496.52 L629.81,496.76 L630.33,497.01 L630.84,497.25 L631.35,497.49 L631.87,497.73 L632.38,497.97 L632.90,498.20 L633.41,498.44 L633.93,498.68 L634.44,498.91 L634.96,499.14 L635.47,499.38 L635.98,499.61 L636.50,499.84 L637.01,500.07 L637.53,500.30 L638.04,500.53 L638.56,500.76 L639.07,500.98 L639.59,501.21 L640.10,501.43 L640.61,501.66 L641.13,501.88 L641.64,502.10 L642.16,502.32 L642.67,502.55 L643.19,502.76 L643.70,502.98 L644.22,503.20 L644.73,503.42 L645.24,503.64 L645.76,503.85 L646.27,504.07 L646.79,504.28 L647.30,504.49 L647.82,504.71 L648.33,504.92 L648.85,505.13 L649.36,505.34 L649.87,505.55 L650.39,505.75 L650.90,505.96 L651.42,506.17 L651.93,506.37 L652.45,506.58 L652.96,506.78 L653.47,506.99 L653.99,507.19 L654.50,507.39 L655.02,507.60 L655.53,507.80 L656.05,508.00 L656.56,508.20 L657.08,508.39 L657.59,508.59 L658.10,508.79 L658.62,508.98 L659.13,509.18 L659.65,509.38 L660.16,509.57 L660.68,509.76 L661.19,509.96 L661.71,510.15 L662.22,510.34 L662.73,510.53 L663.25,510.72 L663.76,510.91 L664.28,511.10 L664.79,511.29 L665.31,511.47 L665.82,511.66 L666.34,511.85 L666.85,512.03 L667.36,512.22 L667.88,512.40 L668.39,512.59 L668.91,512.77 L669.42,512.95 L669.94,513.13 L670.45,513.31 L670.96,513.49 L671.48,513.67 L671.99,513.85 L672.51,514.03 L673.02,514.21 L673.54,514.39 L674.05,514.56 L674.57,514.74 L675.08,514.91 L675.59,515.09 L676.11,515.26 L676.62,515.44 L677.14,515.61 L677.65,515.78 L678.17,515.95 L678.68,516.12 L679.20,516.29 L679.71,516.46 L680.22,516.63 L680.74,516.80 L681.25,516.97 L681.77,517.14 L682.28,517.31 L682.80,517.47 L683.31,517.64 L683.83,517.80 L684.34,517.97 L684.85,518.13 L685.37,518.30 L685.88,518.46 L686.40,518.62 L686.91,518.79 L687.43,518.95 L687.94,519.11 L688.45,519.27 L688.97,519.43 L689.48,519.59 L690.00,519.75 L690.51,519.91 L691.03,520.07 L691.54,520.22 L692.06,520.38 L692.57,520.54 L693.08,520.69 L693.60,520.85 L694.11,521.00 L694.63,521.16 L695.14,521.31 L695.66,521.47 L696.17,521.62 L696.69,521.77 L697.20,521.92 L697.71,522.07 L698.23,522.23 L698.74,522.38 L699.26,522.53 L699.77,522.68 L700.29,522.82 L700.80,522.97 L701.32,523.12 L701.83,523.27 L702.34,523.42 L702.86,523.56 L703.37,523.71 L703.89,523.86 L704.40,524.00 L704.92,524.15 L705.43,524.29 L705.95,524.44 L706.46,524.58 L706.97,524.72 L707.49,524.86 L708.00,525.01 L708.52,525.15 L709.03,525.29 L709.55,525.43 L710.06,525.57 L710.57,525.71 L711.09,525.85 L711.60,525.99 L712.12,526.13 L712.63,526.27 L713.15,526.41 L713.66,526.54 L714.18,526.68 L714.69,526.82 L715.20,526.95 L715.72,527.09 L716.23,527.23 L716.75,527.36 L717.26,527.50 L717.78,527.63 L718.29,527.76 L718.81,527.90 L719.32,528.03 L719.83,528.16 L720.35,528.30 L720.86,528.43 L721.38,528.56 L721.89,528.69 L722.41,528.82 L722.92,528.95 L723.44,529.08 L723.95,529.21 L724.46,529.34 L724.98,529.47 L725.49,529.60 L726.01,529.72 L726.52,529.85 L727.04,529.98 L727.55,530.11 L728.06,530.23 L728.58,530.36 L729.09,530.49 L729.61,530.61 L730.12,530.74 L730.64,530.86 L731.15,530.99 L731.67,531.11 L732.18,531.23 L732.69,531.36 L733.21,531.48 L733.72,531.60 L734.24,531.72 L734.75,531.85 L735.27,531.97 L735.78,532.09 L736.30,532.21 L736.81,532.33 L737.32,532.45 L737.84,532.57 L738.35,532.69 L738.87,532.81 L739.38,532.93 L739.90,533.05 L740.41,533.16 L740.93,533.28 L741.44,533.40 L741.95,533.52 L742.47,533.63 L742.98,533.75 L743.50,533.87 L744.01,533.98 L744.53,534.10 L745.04,534.21 L745.55,534.33 L746.07,534.44 L746.58,534.56 L747.10,534.67 L747.61,534.78 L748.13,534.90 L748.64,535.01 L749.16,535.12 L749.67,535.23 L750.18,535.35 L750.70,535.46 L751.21,535.57 L751.73,535.68 L752.24,535.79 L752.76,535.90 L753.27,536.01 L753.79,536.12 L754.30,536.23 L754.81,536.34 L755.33,536.45 L755.84,536.56 L756.36,536.67 L756.87,536.78 L757.39,536.88 L757.90,536.99 L758.42,537.10 L758.93,537.21 L759.44,537.31 L759.96,537.42 L760.47,537.52 L760.99,537.63 L761.50,537.74 L762.02,537.84 L762.53,537.95 L763.05,538.05 L763.56,538.16 L764.07,538.26 L764.59,538.36 L765.10,538.47 L765.62,538.57 L766.13,538.67 L766.65,538.78 L767.16,538.88 L767.67,538.98 L768.19,539.08 L768.70,539.18 L769.22,539.29 L769.73,539.39 L770.25,539.49 L770.76,539.59 L771.28,539.69 L771.79,539.79 L772.30,539.89 L772.82,539.99 L773.33,540.09 L773.85,540.19 L774.36,540.29 L774.88,540.38 L775.39,540.48 L775.91,540.58 L776.42,540.68 L776.93,540.78 L777.45,540.87 L777.96,540.97 L778.48,541.07 L778.99,541.16 L779.51,541.26 L780.02,541.36 L780.54,541.45 L781.05,541.55 L781.56,541.64 L782.08,541.74 L782.59,541.83 L783.11,541.93 L783.62,542.02 L784.14,542.12 L784.65,542.21 L785.16,542.31 L785.68,542.40 L786.19,542.49 L786.71,542.58 L787.22,542.68 L787.74,542.77 L788.25,542.86 L788.77,542.95 L789.28,543.05 L789.79,543.14 L790.31,543.23 L790.82,543.32 L791.34,543.41 L791.85,543.50 L792.37,543.59 L792.88,543.68 L793.40,543.77 L793.91,543.86 L794.42,543.95 L794.94,544.04 L795.45,544.13 L795.97,544.22 L796.48,544.31 L797.00,544.40 L797.51,544.49 L798.03,544.57 L798.54,544.66 L799.05,544.75 L799.57,544.84 L800.08,544.92 L800.60,545.01 L801.11,545.10 L801.63,545.18 L802.14,545.27 L802.65,545.36 L803.17,545.44 L803.68,545.53 L804.20,545.61 L804.71,545.70 L805.23,545.78 L805.74,545.87 L806.26,545.95 L806.77,546.04 L807.28,546.12 L807.80,546.21 L808.31,546.29 L808.83,546.37 L809.34,546.46 L809.86,546.54 L810.37,546.62 L810.89,546.71 L811.40,546.79 L811.91,546.87 L812.43,546.96 L812.94,547.04 L813.46,547.12 L813.97,547.20 L814.49,547.28 L815.00,547.36 L815.52,547.45 L816.03,547.53 L816.54,547.61 L817.06,547.69 L817.57,547.77 L818.09,547.85 L818.60,547.93 L819.12,548.01 L819.63,548.09 L820.15,548.17 L820.66,548.25 L821.17,548.33 L821.69,548.41 L822.20,548.48 L822.72,548.56 L823.23,548.64 L823.75,548.72 L824.26,548.80 L824.77,548.88 L825.29,548.95 L825.80,549.03 L826.32,549.11 L826.83,549.19 L827.35,549.26 L827.86,549.34 L828.38,549.42 L828.89,549.49 L829.40,549.57 L829.92,549.64 L830.43,549.72 L830.95,549.80 L831.46,549.87 L831.98,549.95 L832.49,550.02 L833.01,550.10 L833.52,550.17 L834.03,550.25 L834.55,550.32 L835.06,550.40 L835.58,550.47 L836.09,550.55 L836.61,550.62 L837.12,550.69 L837.64,550.77 L838.15,550.84 L838.66,550.91 L839.18,550.99 L839.69,551.06 L840.21,551.13 L840.72,551.20 L841.24,551.28 L841.75,551.35 L842.26,551.42 L842.78,551.49 L843.29,551.57 L843.81,551.64 L844.32,551.71 L844.84,551.78 L845.35,551.85 L845.87,551.92 L846.38,551.99 L846.89,552.06 L847.41,552.13 L847.92,552.21 L848.44,552.28 L848.95,552.35 L849.47,552.42 L849.98,552.49 L850.50,552.56 L851.01,552.62 L851.52,552.69 L852.04,552.76 L852.55,552.83 L853.07,552.90 L853.58,552.97 L854.10,553.04 L854.61,553.11 L855.13,553.18 L855.64,553.24 L856.15,553.31 L856.67,553.38 L857.18,553.45 L857.70,553.52 L858.21,553.58 L858.73,553.65 L859.24,553.72 L859.75,553.78 L860.27,553.85 L860.78,553.92 L861.30,553.98 L861.81,554.05 L862.33,554.12 L862.84,554.18 L863.36,554.25 L863.87,554.32 L864.38,554.38 L864.90,554.45 L865.41,554.51 L865.93,554.58 L866.44,554.64 L866.96,554.71 L867.47,554.77 L867.99,554.84 L868.50,554.90 L869.01,554.97 L869.53,555.03 L870.04,555.10 L870.56,555.16 L871.07,555.22 L871.59,555.29 L872.10,555.35 L872.62,555.42 L873.13,555.48 L873.64,555.54 L874.16,555.61 L874.67,555.67 L875.19,555.73 L875.70,555.79 L876.22,555.86 L876.73,555.92 L877.25,555.98 L877.76,556.04 L878.27,556.11 L878.79,556.17 L879.30,556.23 L879.82,556.29 L880.33,556.35 L880.85,556.42 L881.36,556.48 L881.87,556.54 L882.39,556.60 L882.90,556.66 L883.42,556.72 L883.93,556.78 L884.45,556.84 L884.96,556.90 L885.48,556.96 L885.99,557.02 L886.50,557.08 L887.02,557.14 L887.53,557.20 L888.05,557.26 L888.56,557.32 L889.08,557.38 L889.59,557.44 L890.11,557.50 L890.62,557.56 L891.13,557.62 L891.65,557.68 L892.16,557.74 L892.68,557.80 L893.19,557.86 L893.71,557.91 L894.22,557.97 L894.74,558.03 L895.25,558.09 L895.76,558.15 L896.28,558.21 L896.79,558.26 L897.31,558.32 L897.82,558.38 L898.34,558.44 L898.85,558.49 L899.36,558.55 L899.88,558.61 L900.39,558.66 L900.91,558.72 L901.42,558.78 L901.94,558.84 L902.45,558.89 L902.97,558.95 L903.48,559.00 L903.99,559.06 L904.51,559.12 L905.02,559.17 L905.54,559.23 L906.05,559.29 L906.57,559.34 L907.08,559.40 L907.60,559.45 L908.11,559.51 L908.62,559.56 L909.14,559.62 L909.65,559.67 L910.17,559.73 L910.68,559.78 L911.20,559.84 L911.71,559.89 L912.23,559.95 L912.74,560.00 L913.25,560.06 L913.77,560.11 L914.28,560.16 L914.80,560.22 L915.31,560.27 L915.83,560.33 L916.34,560.38 L916.85,560.43 L917.37,560.49 L917.88,560.54 L918.40,560.59 L918.91,560.65 L919.43,560.70 L919.94,560.75 L920.46,560.81 L920.97,560.86 L921.48,560.91 L922.00,560.96 L922.51,561.02 L923.03,561.07 L923.54,561.12 L924.06,561.17 L924.57,561.23 L925.09,561.28 L925.60,561.33 L926.11,561.38 L926.63,561.43 L927.14,561.48 L927.66,561.54 L928.17,561.59 L928.69,561.64 L929.20,561.69 L929.72,561.74 L930.23,561.79 L930.74,561.84 L931.26,561.89 L931.77,561.95 L932.29,562.00 L932.80,562.05 L933.32,562.10 L933.83,562.15 L934.35,562.20 L934.86,562.25 L935.37,562.30 L935.89,562.35 L936.40,562.40 L936.92,562.45 L937.43,562.50 L937.95,562.55 L938.46,562.60 L938.97,562.65 L939.49,562.70 L940.00,562.75 L940.52,562.79 L941.03,562.84 L941.55,562.89 L942.06,562.94 L942.58,562.99 L943.09,563.04 L943.60,563.09 L944.12,563.14 L944.63,563.19 L945.15,563.23 L945.66,563.28 L946.18,563.33 L946.69,563.38 L947.21,563.43 L947.72,563.47 L948.23,563.52 L948.75,563.57 L949.26,563.62 L949.78,563.67 L950.29,563.71 L950.81,563.76 L951.32,563.81 L951.84,563.86 L952.35,563.90 L952.86,563.95 L953.38,564.00 L953.89,564.04 L954.41,564.09 L954.92,564.14 L955.44,564.18 L955.95,564.23 L956.46,564.28 L956.98,564.32 L957.49,564.37 L958.01,564.42 L958.52,564.46 L959.04,564.51 L959.55,564.56 L960.07,564.60 L960.58,564.65 L961.09,564.69 L961.61,564.74 L962.12,564.78 L962.64,564.83 L963.15,564.88 L963.67,564.92 L964.18,564.97 L964.70,565.01 L965.21,565.06 L965.72,565.10 L966.24,565.15 L966.75,565.19 L967.27,565.24 L967.78,565.28 L968.30,565.33 L968.81,565.37 L969.33,565.42 L969.84,565.46 L970.35,565.50 L970.87,565.55 L971.38,565.59 L971.90,565.64 L972.41,565.68 L972.93,565.73 L973.44,565.77 L973.95,565.81 L974.47,565.86 L974.98,565.90 L975.50,565.94 L976.01,565.99 L976.53,566.03 L977.04,566.07 L977.56,566.12 L978.07,566.16 L978.58,566.20 L979.10,566.25 L979.61,566.29 L980.13,566.33 L980.64,566.38 L981.16,566.42 L981.67,566.46 L982.19,566.51 L982.70,566.55 L983.21,566.59 L983.73,566.63 L984.24,566.68 L984.76,566.72 L985.27,566.76 L985.79,566.80 L986.30,566.84 L986.82,566.89 L987.33,566.93 L987.84,566.97 L988.36,567.01 L988.87,567.05 L989.39,567.10 L989.90,567.14 L990.42,567.18 L990.93,567.22 L991.45,567.26 L991.96,567.30 L992.47,567.34 L992.99,567.39 L993.50,567.43 L994.02,567.47 L994.53,567.51 L995.05,567.55 L995.56,567.59 L996.07,567.63 L996.59,567.67 L997.10,567.71 L997.62,567.75 L998.13,567.79 L998.65,567.83 L999.16,567.87 L999.68,567.91 L1000.19,567.96 L1000.70,568.00 L1001.22,568.04 L1001.73,568.08 L1002.25,568.12 L1002.76,568.16 L1003.28,568.20 L1003.79,568.24 L1004.31,568.27 L1004.82,568.31 L1005.33,568.35 L1005.85,568.39 L1006.36,568.43 L1006.88,568.47 L1007.39,568.51 L1007.91,568.55 L1008.42,568.59 L1008.94,568.63 L1009.45,568.67 L1009.96,568.71 L1010.48,568.75 L1010.99,568.79 L1011.51,568.82 L1012.02,568.86 L1012.54,568.90 L1013.05,568.94 L1013.56,568.98 L1014.08,569.02 L1014.59,569.06 L1015.11,569.09 L1015.62,569.13 L1016.14,569.17 L1016.65,569.21 L1017.17,569.25 L1017.68,569.29 L1018.19,569.32 L1018.71,569.36 L1019.22,569.40 L1019.74,569.44 L1020.25,569.48 L1020.77,569.51 L1021.28,569.55 L1021.80,569.59 L1022.31,569.63 L1022.82,569.66 L1023.34,569.70 L1023.85,569.74 L1024.37,569.78 L1024.88,569.81 L1025.40,569.85 L1025.91,569.89 L1026.43,569.92 L1026.94,569.96 L1027.45,570.00 L1027.97,570.04 L1028.48,570.07 L1029.00,570.11 L1029.51,570.15 L1030.03,570.18 L1030.54,570.22 L1031.05,570.26 L1031.57,570.29 L1032.08,570.33 L1032.60,570.36 L1033.11,570.40 L1033.63,570.44 L1034.14,570.47 L1034.66,570.51 L1035.17,570.55 L1035.68,570.58 L1036.20,570.62 L1036.71,570.65 L1037.23,570.69 L1037.74,570.73 L1038.26,570.76 L1038.77,570.80 L1039.29,570.83 L1039.80,570.87" stroke="#7E2F8E" stroke-width="5.0" stroke-dasharray="4.9 5.06"/>
</g>
<path d="M425.50,121.05 L438.10,121.05 M427.35,116.60 L436.25,125.50 M431.80,114.75 L431.80,127.35 M436.25,116.60 L427.35,125.50" stroke="#7E2F8E" stroke-width="1.5" fill="none"/>
<path d="M431.30,121.05 L447.90,121.05 M433.73,115.18 L445.47,126.92 M439.60,112.75 L439.60,129.35 M445.47,115.18 L433.73,126.92" stroke="#D95319" stroke-width="1.5" fill="none"/>
<g font-family="'Liberation Sans', Arial, Helvetica, sans-serif">
<text transform="translate(375.70,660.20) scale(1,1.066)" font-size="33.3" text-anchor="middle" fill="#262626">0</text>
<text transform="translate(541.72,660.20) scale(1,1.066)" font-size="33.3" text-anchor="middle" fill="#262626">10</text>
<text transform="translate(707.75,660.20) scale(1,1.066)" font-size="33.3" text-anchor="middle" fill="#262626">20</text>
<text transform="translate(873.77,660.20) scale(1,1.066)" font-size="33.3" text-anchor="middle" fill="#262626">30</text>
<text transform="translate(1039.80,660.20) scale(1,1.066)" font-size="33.3" text-anchor="middle" fill="#262626">40</text>
</g>
<g font-family="'Liberation Sans', Arial, Helvetica, sans-serif" stroke="#000" stroke-width="0.35">
<text transform="translate(365.00,630.10) scale(1,1.066)" font-size="33.3" text-anchor="end" fill="#000">0</text>
<text transform="translate(365.00,523.90) scale(1,1.066)" font-size="33.3" text-anchor="end" fill="#000">0.2</text>
<text transform="translate(365.00,417.70) scale(1,1.066)" font-size="33.3" text-anchor="end" fill="#000">0.4</text>
<text transform="translate(365.00,311.50) scale(1,1.066)" font-size="33.3" text-anchor="end" fill="#000">0.6</text>
<text transform="translate(365.00,205.30) scale(1,1.066)" font-size="33.3" text-anchor="end" fill="#000">0.8</text>
<text transform="translate(365.00,99.10) scale(1,1.066)" font-size="33.3" text-anchor="end" fill="#000">1</text>
</g>
<g font-family="'Liberation Sans', Arial, Helvetica, sans-serif">
<text transform="translate(458.50,112.30) scale(1,1.03)" font-size="25" text-anchor="start" fill="#D95319">3.85</text>
<text transform="translate(392.20,153.60) scale(1,1.03)" font-size="25" text-anchor="start" fill="#7E2F8E">3.5</text>
</g>
<g font-family="'Liberation Serif', 'Times New Roman', Times, serif" font-style="italic">
<text transform="translate(680.50,701.60) scale(1.156,1.04)" font-size="43" text-anchor="start" fill="#000">St</text>
<text transform="translate(261.4,368.4) rotate(-90) scale(1.13,1)" font-size="43" fill="#000">K</text>
</g>
<line x1="594.7" y1="221.2" x2="643.9" y2="221.2" stroke="#0072BD" stroke-width="3.65"/>
<line x1="594.7" y1="261.4" x2="643.9" y2="261.4" stroke="#D95319" stroke-width="4.9" stroke-dasharray="19.3 20.2"/>
<line x1="594.7" y1="301.55" x2="643.9" y2="301.55" stroke="#EDB120" stroke-width="4.9" stroke-dasharray="19.3 5.3 9.7 5.2"/>
<line x1="594.7" y1="342.0" x2="643.9" y2="342.0" stroke="#7E2F8E" stroke-width="5.0" stroke-dasharray="4.9 5.02"/>
<g font-family="'Liberation Serif', 'Times New Roman', Times, serif">
<text transform="translate(648.30,229.30) scale(1.012,1)" font-size="34.5" text-anchor="start" fill="#000">Conical</text>
<text transform="translate(773.00,229.30) scale(0.985,1)" font-size="34.5" text-anchor="start" fill="#000">flame,</text>
<text transform="translate(865.80,229.30) scale(0.86,1)" font-size="34.5" text-anchor="start" fill="#000">Λ</text>
<text transform="translate(896.90,229.30) scale(1.36,1)" font-size="34.5" text-anchor="start" fill="#000">=</text>
<text transform="translate(932.60,229.30) scale(0.97,1)" font-size="34.5" text-anchor="start" fill="#000">0.1</text>
<text transform="translate(648.30,269.50) scale(1.012,1)" font-size="34.5" text-anchor="start" fill="#000">Conical</text>
<text transform="translate(773.00,269.50) scale(0.985,1)" font-size="34.5" text-anchor="start" fill="#000">flame,</text>
<text transform="translate(865.80,269.50) scale(0.86,1)" font-size="34.5" text-anchor="start" fill="#000">Λ</text>
<text transform="translate(896.90,269.50) scale(1.36,1)" font-size="34.5" text-anchor="start" fill="#000">=</text>
<text transform="translate(932.60,269.50) scale(0.97,1)" font-size="34.5" text-anchor="start" fill="#000">0.2</text>
<text transform="translate(648.60,309.90) scale(1.045,1)" font-size="34.5" text-anchor="start" fill="#000">V-shaped</text>
<text transform="translate(801.00,309.90) scale(0.985,1)" font-size="34.5" text-anchor="start" fill="#000">flame,</text>
<text transform="translate(893.60,309.90) scale(0.86,1)" font-size="34.5" text-anchor="start" fill="#000">Λ</text>
<text transform="translate(924.60,309.90) scale(1.36,1)" font-size="34.5" text-anchor="start" fill="#000">=</text>
<text transform="translate(960.30,309.90) scale(0.97,1)" font-size="34.5" text-anchor="start" fill="#000">0.1</text>
<text transform="translate(648.60,350.20) scale(1.045,1)" font-size="34.5" text-anchor="start" fill="#000">V-shaped</text>
<text transform="translate(801.00,350.20) scale(0.985,1)" font-size="34.5" text-anchor="start" fill="#000">flame,</text>
<text transform="translate(893.60,350.20) scale(0.86,1)" font-size="34.5" text-anchor="start" fill="#000">Λ</text>
<text transform="translate(924.60,350.20) scale(1.36,1)" font-size="34.5" text-anchor="start" fill="#000">=</text>
<text transform="translate(960.30,350.20) scale(0.97,1)" font-size="34.5" text-anchor="start" fill="#000">0.2</text>
</g>
</svg>
</body></html>
